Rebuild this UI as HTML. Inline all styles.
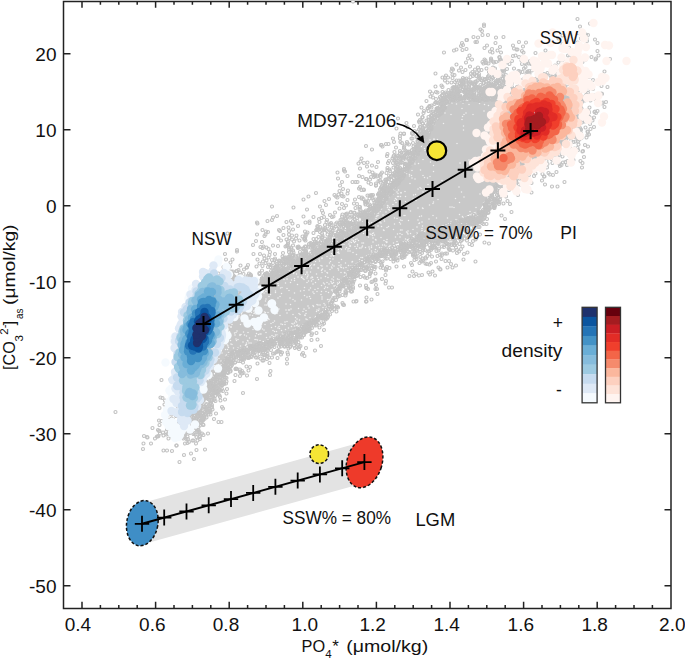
<!DOCTYPE html>
<html><head><meta charset="utf-8"><style>
html,body{margin:0;padding:0;background:#fff;}
svg{display:block;}
text{font-family:"Liberation Sans",sans-serif;fill:#111;}
.tk{font-size:19px;}
.lb{font-size:17.5px;}
.ax{font-size:17px;}
</style></head><body>
<svg width="685" height="659" viewBox="0 0 685 659">
<rect width="685" height="659" fill="#fff"/>
<defs><marker id="g" markerUnits="userSpaceOnUse" markerWidth="8" markerHeight="8" refX="4" refY="4" overflow="visible"><circle cx="4" cy="4" r="3.0" fill="none" stroke="#c3c3c3" stroke-width="2.3"/></marker>
<marker id="b0" markerUnits="userSpaceOnUse" markerWidth="18" markerHeight="18" refX="9" refY="9" overflow="visible"><circle cx="9" cy="9" r="8.4" fill="#f5fafe"/></marker>
<marker id="b1" markerUnits="userSpaceOnUse" markerWidth="18" markerHeight="18" refX="9" refY="9" overflow="visible"><circle cx="9" cy="9" r="8.4" fill="#dee9f6"/></marker>
<marker id="b2" markerUnits="userSpaceOnUse" markerWidth="18" markerHeight="18" refX="9" refY="9" overflow="visible"><circle cx="9" cy="9" r="8.4" fill="#c6dbef"/></marker>
<marker id="b3" markerUnits="userSpaceOnUse" markerWidth="18" markerHeight="18" refX="9" refY="9" overflow="visible"><circle cx="9" cy="9" r="8.4" fill="#9dcae1"/></marker>
<marker id="b4" markerUnits="userSpaceOnUse" markerWidth="18" markerHeight="18" refX="9" refY="9" overflow="visible"><circle cx="9" cy="9" r="8.4" fill="#86bcdc"/></marker>
<marker id="b5" markerUnits="userSpaceOnUse" markerWidth="18" markerHeight="18" refX="9" refY="9" overflow="visible"><circle cx="9" cy="9" r="8.4" fill="#6aaed6"/></marker>
<marker id="b6" markerUnits="userSpaceOnUse" markerWidth="18" markerHeight="18" refX="9" refY="9" overflow="visible"><circle cx="9" cy="9" r="8.4" fill="#4392c6"/></marker>
<marker id="b7" markerUnits="userSpaceOnUse" markerWidth="18" markerHeight="18" refX="9" refY="9" overflow="visible"><circle cx="9" cy="9" r="8.4" fill="#2474b6"/></marker>
<marker id="b8" markerUnits="userSpaceOnUse" markerWidth="18" markerHeight="18" refX="9" refY="9" overflow="visible"><circle cx="9" cy="9" r="8.4" fill="#0b559f"/></marker>
<marker id="b9" markerUnits="userSpaceOnUse" markerWidth="18" markerHeight="18" refX="9" refY="9" overflow="visible"><circle cx="9" cy="9" r="8.4" fill="#1f316d"/></marker>
<marker id="r0" markerUnits="userSpaceOnUse" markerWidth="18" markerHeight="18" refX="9" refY="9" overflow="visible"><circle cx="9" cy="9" r="8.4" fill="#fff4f0"/></marker>
<marker id="r1" markerUnits="userSpaceOnUse" markerWidth="18" markerHeight="18" refX="9" refY="9" overflow="visible"><circle cx="9" cy="9" r="8.4" fill="#fee3d8"/></marker>
<marker id="r2" markerUnits="userSpaceOnUse" markerWidth="18" markerHeight="18" refX="9" refY="9" overflow="visible"><circle cx="9" cy="9" r="8.4" fill="#fdd0bf"/></marker>
<marker id="r3" markerUnits="userSpaceOnUse" markerWidth="18" markerHeight="18" refX="9" refY="9" overflow="visible"><circle cx="9" cy="9" r="8.4" fill="#fbb79d"/></marker>
<marker id="r4" markerUnits="userSpaceOnUse" markerWidth="18" markerHeight="18" refX="9" refY="9" overflow="visible"><circle cx="9" cy="9" r="8.4" fill="#f58a6c"/></marker>
<marker id="r5" markerUnits="userSpaceOnUse" markerWidth="18" markerHeight="18" refX="9" refY="9" overflow="visible"><circle cx="9" cy="9" r="8.4" fill="#f36548"/></marker>
<marker id="r6" markerUnits="userSpaceOnUse" markerWidth="18" markerHeight="18" refX="9" refY="9" overflow="visible"><circle cx="9" cy="9" r="8.4" fill="#f03f2c"/></marker>
<marker id="r7" markerUnits="userSpaceOnUse" markerWidth="18" markerHeight="18" refX="9" refY="9" overflow="visible"><circle cx="9" cy="9" r="8.4" fill="#e22c26"/></marker>
<marker id="r8" markerUnits="userSpaceOnUse" markerWidth="18" markerHeight="18" refX="9" refY="9" overflow="visible"><circle cx="9" cy="9" r="8.4" fill="#cb1e24"/></marker>
<marker id="r9" markerUnits="userSpaceOnUse" markerWidth="18" markerHeight="18" refX="9" refY="9" overflow="visible"><circle cx="9" cy="9" r="8.4" fill="#a51c20"/></marker>
<marker id="r10" markerUnits="userSpaceOnUse" markerWidth="18" markerHeight="18" refX="9" refY="9" overflow="visible"><circle cx="9" cy="9" r="8.4" fill="#67000d"/></marker>
<marker id="w" markerUnits="userSpaceOnUse" markerWidth="4" markerHeight="4" refX="2" refY="2" overflow="visible"><circle cx="2" cy="2" r="1.5" fill="#f2f2f2"/></marker>
</defs>
<path d="M185 365 195 345 215 300 230 292 255 290 275 280 292 270 310 262 326 252 337 245 353 234 370 222 385 200 400 182 410 166 420 150 435 122 450 102 480 100 500 100 520 105 545 110 560 130 545 140 520 155 500 175 480 210 450 223 435 228 420 232 410 238 400 243 385 248 370 255 353 265 337 285 326 308 310 321 292 330 275 337 255 344 230 352 215 372 195 390Z" fill="#c8c8c8"/>
<g transform="scale(0.5)">
<path d="M926 206 904 206 913 208 959 207 938 209 969 209 977 211 1004 211 1005 212 924 217 992 217 1081 219 968 222 1027 221 890 226 932 226 1058 227 902 229 928 229 946 229 1001 229 1067 232 925 233 876 238 924 239 1103 240 1080 246 887 247 1085 248 869 250 927 252 1009 256 927 260 1012 263 1003 267 1060 271 868 278 974 277 868 279 875 279 860 280 872 282 974 285 914 287 1053 288 855 292 856 291 1067 291 892 295 1056 296 849 297 1035 297 862 299 850 301 862 303 994 303 1005 303 1040 304 854 308 976 308 834 312 1013 312 979 316 846 319 938 320 1004 318 1016 320 829 323 861 324 829 325 830 328 837 327 920 326 823 330 867 331 820 333 824 341 841 340 960 341 867 343 813 347 819 349 823 351 846 351 819 352 860 353 990 353 824 356 849 355 855 356 992 358 830 358 884 361 820 367 856 369 840 375 918 374 842 377 797 380 836 378 789 381 794 384 810 383 846 384 863 384 923 384 974 383 802 385 786 388 796 387 802 386 960 388 831 389 827 390 795 393 797 393 801 393 811 393 778 394 928 394 791 397 911 397 793 399 826 398 876 399 773 400 789 401 832 401 773 403 811 403 792 405 867 404 919 405 866 407 967 406 786 409 767 410 775 411 776 412 859 410 775 415 779 415 800 414 836 416 845 416 900 414 904 414 908 415 952 415 799 417 846 417 763 418 777 419 790 418 804 418 756 421 779 420 758 422 760 423 772 424 821 422 940 423 757 426 781 426 756 426 919 429 751 430 754 432 756 431 766 430 808 431 810 431 843 432 866 431 751 432 752 433 839 433 925 433 768 436 895 436 752 437 789 436 794 437 873 436 768 438 836 440 858 438 912 439 743 441 757 442 769 442 801 440 804 441 817 441 760 442 844 444 902 444 743 445 760 445 762 446 799 445 839 446 739 447 789 448 801 448 838 447 734 450 728 454 741 453 746 453 756 452 763 453 777 453 845 452 869 452 730 455 735 455 774 455 834 454 844 457 729 459 740 459 767 460 787 459 801 460 826 459 859 458 727 462 730 461 737 461 768 461 804 460 816 462 844 461 854 461 716 463 716 464 813 464 735 465 815 466 834 466 727 467 740 468 745 467 747 466 800 467 821 467 836 467 708 470 742 469 795 468 804 469 816 468 745 471 749 470 791 474 800 474 707 474 737 474 746 476 762 475 714 478 811 478 711 479 751 479 774 479 693 482 697 481 704 480 707 481 717 481 752 480 768 481 811 482 707 483 711 483 772 483 774 484 794 483 700 484 703 485 709 485 724 486 746 484 773 485 727 486 787 486 684 489 688 489 698 488 715 489 765 490 700 491 753 491 757 490 769 490 780 491 677 494 700 493 701 492 710 493 715 492 724 494 725 492 743 492 772 492 778 493 670 494 674 495 693 495 731 495 738 494 743 495 759 495 770 495 681 496 698 497 713 497 719 496 722 496 739 498 763 496 667 498 677 499 683 499 691 498 696 498 751 499 665 500 696 502 700 502 743 502 677 504 750 504 756 502 671 506 675 505 677 505 706 505 744 506 663 507 678 507 713 509 662 512 665 510 667 511 737 510 644 514 654 513 667 512 733 512 722 515 725 515 638 518 644 517 660 517 728 517 666 518 683 519 719 519 627 522 631 523 639 522 661 523 705 523 678 525 691 526 704 524 659 526 623 528 628 530 629 529 617 532 621 531 642 531 665 530 678 531 682 530 697 531 702 532 707 531 611 533 613 532 617 533 619 533 644 532 654 532 663 534 668 532 610 535 636 536 681 534 683 535 692 535 609 538 623 536 637 536 664 536 676 537 687 536 599 539 605 539 644 539 645 538 660 539 701 540 643 541 650 542 677 540 696 541 614 544 621 544 588 545 605 545 644 545 654 545 655 546 682 545 689 545 690 546 587 547 606 548 614 546 633 548 577 549 593 548 611 549 616 550 566 553 574 552 596 554 615 553 624 554 651 553 603 555 604 554 614 556 622 556 625 555 635 555 642 556 656 555 667 554 558 558 589 557 606 557 675 558 568 559 574 558 608 559 626 559 637 559 664 558 667 560 678 559 685 559 553 562 583 560 589 561 617 562 623 562 662 563 679 563 581 565 614 565 631 565 654 565 667 565 675 566 556 567 571 566 626 568 647 566 649 568 663 566 665 567 537 569 542 568 595 569 658 568 541 571 549 572 557 571 643 571 671 571 538 573 542 573 651 574 668 572 670 572 524 576 564 575 609 575 655 575 561 576 574 577 621 576 636 577 649 577 529 580 533 579 630 579 663 580 515 581 522 580 526 582 578 581 608 581 618 580 665 580 509 582 532 583 551 582 601 582 626 584 634 583 643 583 652 583 666 583 471 585 476 585 481 585 482 585 503 585 510 585 512 586 519 585 520 584 528 586 551 585 589 586 657 585 501 586 503 586 510 587 515 586 517 587 523 586 563 587 628 587 512 589 541 589 642 589 450 591 453 591 465 592 511 590 520 592 609 591 456 594 493 593 538 593 560 593 614 594 619 593 644 594 490 594 507 596 580 596 443 597 460 597 466 598 477 596 481 596 496 596 532 598 556 596 621 597 644 598 466 599 475 599 500 599 586 599 655 599 658 599 506 601 544 600 603 600 455 602 531 602 540 602 590 602 658 603 659 603 431 606 436 604 436 605 478 605 498 605 509 605 546 605 469 607 477 607 494 607 572 608 648 607 468 610 501 608 533 610 537 609 581 609 634 609 636 610 640 610 658 608 427 611 530 610 616 612 626 611 650 610 465 613 499 613 551 612 627 613 452 614 461 615 646 615 651 616 426 617 441 618 453 617 548 618 549 618 597 617 608 618 618 616 441 619 448 618 545 618 558 618 577 620 582 618 634 620 638 618 440 621 443 621 572 620 579 620 612 621 637 621 431 623 433 622 459 624 462 623 465 623 468 623 472 623 507 622 514 623 521 623 529 624 552 623 606 623 633 623 646 622 484 625 503 625 509 626 531 625 536 625 419 627 466 626 483 627 508 627 512 628 554 627 574 626 598 627 612 627 425 628 429 629 435 629 441 630 500 630 550 628 586 629 600 629 610 630 417 632 458 631 461 630 466 631 469 630 478 631 483 630 505 631 560 631 610 631 416 633 426 634 480 634 526 633 631 633 416 635 591 635 620 635 520 637 537 637 594 638 629 637 435 638 455 639 467 640 505 638 532 639 538 639 612 638 614 639 625 639 484 642 504 641 534 641 549 642 591 642 599 640 483 642 492 644 574 643 593 644 429 645 519 645 546 645 570 644 542 647 562 648 584 647 589 646 417 649 429 649 445 648 453 650 464 649 481 649 523 649 530 649 565 649 570 649 586 648 595 650 607 650 430 652 458 652 494 650 521 650 589 652 593 651 600 651 418 654 455 654 551 653 558 653 583 653 595 652 597 653 462 654 462 654 508 654 518 654 521 655 543 655 556 656 591 655 422 658 431 658 525 658 559 657 577 656 416 659 438 658 506 659 571 659 410 662 420 661 436 660 528 660 546 661 563 661 459 663 474 662 487 664 549 663 553 663 431 665 469 666 472 665 496 665 532 665 413 667 414 667 428 667 436 666 459 666 513 667 522 668 565 667 428 669 470 670 480 669 482 669 517 669 520 668 554 670 413 672 420 672 452 672 480 671 489 670 493 672 511 672 544 671 551 670 404 672 427 674 456 673 547 673 552 674 401 674 451 675 499 676 533 675 540 674 548 674 400 677 420 677 433 676 441 676 472 678 545 677 405 679 476 679 510 679 512 679 515 680 538 680 540 678 398 681 416 682 439 682 461 681 473 681 495 681 496 682 520 681 531 681 397 683 486 684 443 686 493 686 524 686 409 688 437 687 498 686 502 686 513 687 393 690 448 690 452 688 462 688 464 689 492 689 493 689 503 689 393 692 430 691 455 690 491 691 456 692 481 692 409 696 440 695 457 695 491 695 493 695 424 697 467 696 476 696 451 699 455 699 473 699 477 698 388 701 431 701 468 701 457 705 394 707 423 707 430 708 444 706 391 709 453 710 388 712 382 713 397 714 410 713 452 712 385 715 383 717 406 717 407 716 420 717 421 718 438 717 450 718 382 719 389 719 398 719 434 719 451 719 386 722 399 720 433 720 442 722 376 723 414 722 429 723 412 725 389 727 397 726 403 726 417 727 373 729 390 729 437 729 390 731 419 732 429 731 379 733 382 732 411 733 433 736 434 735 403 737 410 738 422 737 426 738 434 737 436 737 391 738 377 742 410 742 432 741 388 744 414 743 420 743 432 744 386 746 420 749 422 752 401 754 406 753 415 753 417 753 387 754 388 756 387 756 405 756 417 757 388 758 407 759 414 759 386 762 400 762 394 765 401 765 404 765 395 768 395 769 397 768 399 768 401 769 386 772 396 775" fill="none" stroke="none" marker-start="url(#w)" marker-mid="url(#w)" marker-end="url(#w)"/>
<path d="M1155 38 1180 47 968 49 968 52 1160 53 961 59 964 62 1156 66 965 70 976 70 1172 69 1176 70 1125 71 1133 71 947 74 1007 74 956 75 992 75 1117 77 1162 77 1173 77 933 80 934 80 1190 79 1174 82 954 84 1038 84 924 86 951 84 1052 85 1155 85 1195 86 991 86 1125 88 922 92 926 90 974 91 1026 91 1046 93 969 96 1000 94 1138 95 984 98 1028 97 913 99 933 98 1033 99 1035 99 908 101 925 100 995 101 1091 101 980 103 1044 102 1144 103 1195 102 888 105 985 105 1002 105 1047 105 1071 106 939 111 1031 111 1136 111 1197 111 1026 112 1139 114 1183 114 999 115 999 114 1038 114 1044 115 1171 115 936 117 982 117 1192 117 944 119 969 119 982 119 1000 119 1002 120 1047 119 1122 120 1161 118 1172 119 1191 119 1220 118 971 121 982 121 1024 122 1043 121 1161 121 986 123 992 124 999 122 1060 122 1096 123 1129 123 1138 122 1147 122 1165 124 932 125 965 124 971 125 988 125 1014 125 1050 126 1117 125 967 127 973 126 977 127 1019 128 1044 128 1053 127 1058 127 1062 127 1157 127 913 129 1003 130 1063 128 1087 129 1100 130 1141 128 1005 130 1110 131 1136 131 940 133 1051 134 1107 134 1112 133 922 135 956 135 986 135 1007 135 1107 134 904 137 973 137 983 138 985 137 987 137 990 137 1014 138 1028 137 1048 137 1078 138 1107 138 906 139 950 139 1005 139 1007 140 1138 139 918 141 931 140 958 140 963 140 1007 140 1037 142 1064 141 903 142 978 144 986 142 1008 143 1040 143 1045 144 1055 144 1055 143 1058 142 1116 143 1120 143 1153 143 1160 143 1168 144 1209 143 925 144 945 144 954 145 990 145 1001 145 1057 146 1132 145 1130 145 1137 144 871 147 942 147 949 147 1028 148 1038 147 1053 147 1059 147 1082 147 1088 148 1095 146 1145 147 905 149 949 149 958 148 988 149 995 149 1006 148 1107 148 1115 148 1143 149 892 151 909 150 978 151 990 152 1000 150 1012 150 1093 150 1101 151 1114 151 1168 150 946 152 953 152 958 152 976 153 1004 152 1008 153 1075 153 1090 152 1103 154 1113 154 1122 153 1153 154 1162 153 1165 152 1178 154 885 155 890 155 896 155 905 156 926 156 941 154 957 155 984 155 986 156 996 156 1112 155 1126 154 1142 156 929 158 933 157 959 156 965 157 970 158 975 157 996 156 1000 157 1010 156 1013 158 1048 158 1082 156 1109 158 1141 156 1162 156 937 160 973 158 983 159 1005 158 1010 159 1016 159 1017 160 1023 159 1046 159 1049 160 1051 159 1059 158 1060 160 1071 158 1125 159 1132 159 1145 159 1170 159 890 161 913 161 918 161 922 161 925 160 932 161 955 161 962 160 964 161 969 160 977 161 995 162 996 160 999 161 1002 161 1012 160 1021 161 1029 160 1031 160 1061 162 1074 160 1077 162 1131 160 1138 160 1186 160 910 164 924 164 926 163 940 163 951 163 953 164 992 162 994 163 996 163 1008 163 1010 163 1012 163 1034 163 1036 164 1065 164 1112 163 1129 163 1160 163 1178 164 895 165 903 165 932 165 942 166 946 165 968 166 988 166 1007 166 1015 166 1051 166 1054 165 1058 165 1071 166 1078 164 1087 164 1092 165 1131 165 920 167 924 168 927 167 939 167 945 167 949 168 967 166 977 167 977 167 978 167 982 167 991 167 992 167 992 166 998 166 1000 167 1011 168 1024 167 1049 167 1049 167 1073 166 1086 167 1098 167 1097 167 1102 168 914 169 923 170 923 169 932 168 950 168 948 169 961 170 972 168 980 169 985 169 1044 170 1067 168 1134 169 883 171 922 171 927 171 939 170 949 171 976 171 981 172 1000 172 1004 170 1020 172 1048 171 1049 172 1052 172 1062 171 1079 170 1092 170 1104 171 1119 171 1203 172 871 173 913 173 918 172 938 173 937 174 951 173 953 173 956 174 964 173 976 173 985 172 988 173 988 173 991 174 1002 173 1024 174 1034 174 1038 172 1042 173 1047 172 1048 173 1055 173 1059 174 1075 173 1080 173 1083 174 1149 173 1215 174 885 174 907 174 909 175 926 174 928 174 932 176 948 176 950 174 956 175 970 175 973 176 972 174 978 174 980 176 984 175 983 175 985 175 992 174 1004 176 1009 175 1017 175 1044 174 1050 175 1054 174 1069 176 1077 174 1118 175 1130 174 1153 175 1155 176 905 176 907 177 909 177 913 176 912 177 915 177 917 177 920 177 935 178 950 177 950 177 950 177 951 176 956 177 959 176 960 177 962 176 965 178 972 177 976 176 974 177 979 177 980 177 980 178 982 177 986 177 990 177 997 178 999 177 1002 177 1012 177 1013 177 1014 178 1014 176 1024 178 1030 178 1039 177 1040 176 1042 178 1043 177 1067 178 1066 176 1083 177 1090 178 1118 177 1156 177 1169 177 897 180 913 179 942 179 942 179 945 180 953 179 962 180 961 180 962 179 969 178 971 179 976 179 979 180 990 179 995 179 994 180 996 179 999 179 1004 179 1012 179 1026 178 1037 179 1046 180 1047 179 1063 178 1068 179 1082 180 1099 178 1108 179 1109 179 1119 178 1124 179 1125 180 1126 178 1143 179 1170 179 1176 180 1186 178 920 181 922 182 930 180 932 181 932 180 938 180 943 181 947 180 957 182 958 181 971 182 973 181 978 180 982 180 990 180 997 180 1002 181 1010 182 1012 181 1017 182 1021 182 1024 181 1027 182 1030 180 1030 180 1039 181 1043 180 1056 180 1061 181 1062 181 1070 182 1071 182 1073 181 1081 181 1087 182 1087 180 1090 181 1111 182 1113 181 1118 181 1133 180 1134 182 1157 180 1166 182 1166 180 860 183 903 182 905 184 910 183 914 183 917 184 918 183 928 183 930 183 936 183 940 182 949 184 968 183 975 183 978 182 979 183 980 183 986 183 993 184 994 184 997 183 999 183 1001 184 1012 183 1021 184 1023 183 1027 183 1028 183 1031 182 1034 182 1038 183 1047 182 1051 184 1051 183 1058 182 1061 182 1062 183 1064 183 1079 183 1081 183 1087 183 1102 183 1116 182 1135 184 1145 183 872 184 875 185 885 184 891 185 901 186 903 185 907 186 912 186 913 184 913 186 929 185 931 186 935 185 937 186 942 185 941 185 962 185 966 185 966 186 973 185 983 185 992 185 990 185 998 184 998 186 1006 185 1007 184 1007 184 1014 184 1017 186 1023 185 1029 185 1030 184 1036 186 1044 186 1047 185 1073 184 1098 184 1110 185 1117 184 1120 185 1122 185 1147 185 864 187 888 187 893 188 898 188 914 187 916 187 934 186 948 186 961 186 964 187 964 188 970 187 975 187 977 186 984 187 992 186 995 187 997 188 1004 187 1008 187 1014 188 1025 187 1027 188 1032 187 1036 188 1040 187 1043 188 1045 186 1053 187 1060 187 1061 186 1064 188 1066 188 1077 188 1082 188 1088 187 1090 188 1099 188 1176 186 1203 187 885 190 901 189 900 190 903 189 904 190 908 189 915 189 943 188 948 189 949 189 958 189 962 189 972 189 972 190 976 190 982 189 986 189 991 189 991 189 994 189 1002 189 1005 189 1008 188 1023 188 1035 190 1036 190 1041 190 1042 189 1045 189 1095 189 1094 189 1105 189 1128 188 1129 190 1140 189 1155 189 1173 189 1204 188 884 191 894 190 902 191 909 192 910 191 913 192 920 191 932 191 933 191 936 192 938 192 941 192 945 191 945 191 949 192 958 191 963 191 970 191 970 191 975 192 978 191 976 190 988 191 998 192 998 191 1001 192 1001 191 1006 190 1012 191 1013 190 1014 192 1017 191 1031 192 1044 191 1047 191 1046 192 1055 192 1056 191 1060 191 1077 192 1082 191 1083 192 1095 192 1097 191 1096 192 1100 192 1110 190 1117 192 1118 190 1136 190 1160 190 1175 191 1186 190 861 193 894 193 897 192 908 193 910 193 916 193 921 193 929 193 930 193 931 193 940 193 957 192 963 193 968 193 972 193 984 193 987 193 995 194 996 192 1002 193 1005 193 1011 192 1023 193 1024 193 1031 193 1037 193 1057 193 1060 193 1058 192 1066 193 1070 192 1072 192 1075 192 1085 193 1089 193 1101 193 1106 193 1130 193 1139 193 1156 194 1171 192 866 195 880 194 888 195 889 195 891 195 892 195 901 195 901 195 904 195 905 194 908 194 909 195 911 196 913 194 919 195 921 195 920 194 929 195 935 195 943 195 949 196 953 195 955 195 963 194 968 194 975 196 986 195 990 196 989 195 990 194 992 195 996 194 998 195 998 195 1002 194 1003 195 1006 195 1014 194 1017 195 1019 196 1021 195 1023 196 1025 195 1027 196 1039 195 1039 194 1057 195 1059 196 1072 196 1080 196 1081 194 1084 194 1087 195 1094 194 1105 196 1107 195 1109 194 1110 196 1122 195 1124 195 1130 195 1133 195 1136 196 1136 196 1142 195 1152 195 1160 195 1169 195 1176 195 872 198 881 197 890 197 900 196 918 197 919 197 921 197 927 197 928 197 933 197 938 197 941 198 947 198 946 197 948 196 950 198 962 198 965 197 965 196 968 196 967 198 976 197 981 198 987 198 1002 196 1007 197 1007 196 1020 197 1032 197 1034 197 1043 197 1043 197 1042 197 1045 198 1063 196 1067 197 1067 198 1072 196 1080 198 1084 197 1085 196 1098 197 1110 198 1118 197 1118 197 1128 197 1131 198 1132 196 1134 196 1139 196 1164 198 886 199 887 200 904 200 906 200 905 198 907 200 906 200 908 198 911 200 913 198 916 200 919 199 920 199 946 198 946 198 953 199 953 199 970 200 972 199 973 199 975 199 975 199 975 198 977 199 984 199 986 199 989 199 1003 200 1003 199 1006 199 1007 199 1010 199 1010 199 1011 200 1011 200 1023 199 1024 199 1025 199 1029 199 1033 200 1037 199 1039 199 1041 198 1046 198 1047 199 1048 200 1068 199 1071 199 1072 198 1082 198 1092 198 1098 200 1105 198 1127 199 1130 198 1135 198 1143 199 1162 200 1164 198 1189 198 886 201 886 202 884 200 895 202 905 201 927 201 941 200 949 200 955 200 959 201 959 202 1008 200 1019 201 1019 201 1021 201 1024 201 1027 201 1028 200 1033 201 1036 201 1040 201 1038 201 1041 200 1046 202 1045 202 1049 200 1082 201 1084 202 1087 201 1093 201 1104 201 1110 201 1110 201 1118 201 1122 200 1135 202 1137 201 1141 202 1144 201 1147 200 1170 201 1181 201 853 202 881 203 888 202 892 202 894 203 893 203 893 203 927 202 1012 203 1016 203 1020 202 1022 202 1021 203 1024 204 1027 202 1037 203 1040 203 1042 204 1055 203 1058 204 1064 202 1070 204 1078 203 1077 202 1083 203 1083 202 1093 203 1095 202 1096 203 1117 203 1117 203 1118 204 1129 204 1137 204 1141 203 1164 204 871 205 873 205 879 204 884 204 889 205 894 206 897 204 898 204 1022 205 1028 206 1033 204 1036 204 1041 204 1045 205 1059 205 1066 205 1071 205 1073 205 1075 205 1076 205 1080 205 1089 204 1089 205 1090 206 1106 204 1116 206 1125 206 1136 205 1144 206 1154 205 1155 206 1206 205 1212 204 869 208 876 206 882 208 883 207 890 206 1039 207 1046 208 1055 207 1075 207 1076 207 1082 207 1083 208 1082 208 1087 208 1089 206 1091 208 1101 207 1102 206 1110 208 1121 207 1133 207 1138 208 1140 206 1146 208 1205 207 886 209 1037 210 1037 210 1050 210 1069 208 1073 208 1078 210 1078 208 1081 210 1098 210 1118 209 1129 209 1140 209 1150 209 863 211 888 211 888 210 1044 211 1046 211 1055 212 1058 211 1067 211 1070 211 1071 211 1079 211 1082 211 1087 211 1099 211 1099 211 1098 211 1098 210 1100 211 1103 211 1103 211 1121 212 1142 212 1149 211 859 212 859 213 880 213 885 213 886 214 887 214 890 214 1054 212 1070 212 1072 214 1077 212 1080 213 1080 214 1095 213 1099 214 1103 213 1131 213 1135 213 1150 212 1152 213 1154 212 1209 214 843 215 856 216 859 214 863 215 876 216 882 216 884 215 886 215 888 216 889 214 1076 214 1079 215 1082 215 1090 215 1092 216 1092 215 1104 215 1110 215 1114 215 1128 216 1132 215 1136 215 1140 216 1151 215 1154 215 1161 214 1161 216 1179 215 855 217 873 217 874 217 875 217 882 218 885 216 888 217 886 218 890 216 1075 216 1083 217 1103 217 1108 218 1116 218 1117 216 1136 217 1136 216 1144 216 1146 217 1147 218 1163 217 1086 220 1092 219 1094 218 1098 218 1100 219 1116 218 1119 218 1123 218 1140 218 1146 219 1147 220 1151 219 857 222 873 221 877 220 876 221 879 221 878 221 881 221 882 222 884 220 886 221 886 220 1095 222 1095 222 1104 220 1103 222 1104 220 1116 222 1116 220 1117 221 1121 220 1131 221 1147 222 1149 220 1150 221 1155 221 1175 221 1195 222 848 222 863 224 866 223 871 223 876 222 878 222 878 224 1107 223 1107 222 1111 224 1112 223 1113 223 1123 223 1124 222 1140 224 1144 224 1149 223 1152 223 1158 223 1177 222 1189 224 1190 223 847 226 871 224 883 225 1102 225 1101 225 1105 225 1115 225 1121 226 1125 226 1124 225 1128 225 1128 226 1129 225 1140 224 1154 225 1178 225 876 227 880 227 880 228 883 227 1104 228 1107 226 1111 227 1112 227 1115 227 1118 226 1125 227 1135 227 1139 227 1142 227 1149 228 1152 227 1157 227 1159 228 1192 226 836 229 867 228 1099 228 1098 229 1101 229 1103 229 1104 229 1107 228 1108 230 1114 229 1115 230 1121 230 1121 228 1130 228 1135 228 1138 228 1174 230 864 232 862 231 864 231 868 231 871 231 875 231 877 231 878 230 1112 232 1115 231 1133 231 1153 230 1154 232 1176 231 845 234 874 233 1100 234 1105 233 1113 233 1123 234 1125 234 1128 232 1136 232 1143 233 1150 233 1152 234 1154 234 1157 234 1157 234 1163 232 1175 232 1178 233 845 235 857 234 870 235 869 235 1103 235 1110 235 1115 235 1118 235 1121 235 1141 234 1142 235 1143 236 1146 234 1151 235 1161 234 1163 235 1172 235 1170 235 1188 235 796 237 864 236 866 238 870 236 875 237 1116 237 1123 236 1123 238 1132 236 1130 237 1134 237 1134 237 1166 236 1172 236 1183 237 857 239 863 239 1109 239 1111 238 1113 238 1116 239 1115 239 1117 239 1120 239 1130 238 1135 238 840 240 843 242 853 241 857 241 862 241 1114 241 1115 242 1117 241 1117 242 1120 241 1121 242 1121 242 1120 242 1124 240 1142 241 1143 241 1155 241 1185 241 838 243 863 244 864 244 868 242 867 243 1113 243 1115 244 1125 243 1126 243 1130 243 1137 243 1145 242 1159 242 1161 244 1170 243 813 246 839 245 1111 246 1120 245 1124 244 1136 244 1137 245 1142 245 1149 244 1153 246 1152 246 1154 244 1157 245 1160 245 1164 245 845 247 846 247 858 246 857 248 860 248 861 247 866 247 1123 247 1123 247 1125 247 1127 248 1130 247 1131 248 1132 247 1141 248 1151 247 1155 248 1180 248 855 250 860 248 866 249 1119 250 1122 249 1126 250 1127 249 1135 248 1139 248 1143 250 828 252 857 252 862 252 1119 250 1125 251 1125 250 1135 250 1136 250 1144 250 1146 251 1152 251 1152 252 1154 252 840 254 841 254 849 252 859 252 858 253 1123 253 1122 254 1126 253 1126 254 1126 252 1139 253 1145 252 1188 254 815 254 845 255 847 256 862 256 1121 255 1124 255 1134 254 1138 256 1137 254 1137 255 1138 255 1148 255 1151 256 1155 255 1171 255 793 257 861 257 863 257 1124 257 1126 258 1143 257 1146 257 1160 256 1181 258 838 259 852 258 857 259 860 258 862 259 1122 258 1126 259 1135 259 1143 260 1143 259 1144 259 1144 259 1158 258 1159 259 1162 259 829 262 842 262 841 261 856 261 857 260 1125 262 1126 261 1129 260 1136 261 1138 261 1140 261 1141 261 1145 261 1161 262 835 263 846 263 846 263 848 264 1119 263 1128 262 1143 263 1175 263 824 266 848 266 854 265 1120 266 1122 266 1127 266 1136 265 1155 265 1176 264 801 267 808 267 824 267 826 268 838 267 845 267 850 266 851 267 858 266 1118 267 1120 268 1127 268 1133 266 1156 267 1162 267 808 268 836 270 841 270 842 269 849 270 848 269 851 270 857 270 1115 269 1128 270 1128 268 1140 268 1141 268 1143 268 1149 268 1161 269 1175 270 1178 269 800 272 844 272 849 270 852 271 1112 272 1116 270 1118 270 1130 272 1154 271 833 273 844 273 854 273 853 274 1117 274 1121 273 1122 272 1123 274 1134 273 1146 272 1148 273 1149 274 1154 273 834 275 838 276 1101 275 1102 275 1102 275 1108 275 1108 275 1113 276 1116 275 1119 275 1119 276 1124 274 1132 275 1139 275 1163 276 1173 275 786 277 800 277 823 277 825 277 836 278 838 277 839 278 839 278 843 276 852 276 1103 277 1103 277 1102 277 1105 276 1110 276 1120 277 1155 276 847 280 849 279 1099 278 1099 279 1100 279 1110 278 1109 279 1116 278 1125 278 1126 280 1127 280 1159 279 839 281 842 280 1093 281 1095 282 1123 280 1128 282 1132 280 788 284 814 284 836 282 835 282 844 282 849 284 1093 283 1099 282 1101 284 1103 283 1102 284 1110 282 1116 283 1128 284 1142 282 1151 283 1156 283 801 284 826 286 846 286 847 285 1088 286 1115 286 1118 285 1119 284 1125 286 1147 284 772 288 804 286 815 287 835 287 839 288 839 287 842 287 844 287 848 288 1083 288 1083 287 1084 288 1085 287 1090 287 1091 286 1108 286 1126 287 1134 288 762 290 763 290 777 288 818 289 833 289 836 290 838 290 1082 289 1081 289 1087 289 1089 290 1092 289 1118 290 1118 290 1122 289 1134 289 1157 289 809 291 835 291 839 290 1093 292 1105 292 1170 290 732 292 765 293 827 293 836 292 836 293 1072 293 1078 293 1081 293 1081 293 1084 294 1083 292 1083 294 1092 292 1109 292 1111 292 1114 293 1118 293 1176 293 792 295 808 294 832 295 831 295 834 295 837 296 1071 295 1073 295 1072 295 1073 294 1081 295 1081 295 1086 296 1095 295 1098 294 1101 295 1103 295 1112 295 1119 294 1140 294 808 297 827 298 836 296 836 296 838 297 840 297 1066 297 1074 297 1075 297 1076 297 1080 297 1082 298 1090 298 1100 297 1120 296 1149 297 1155 296 744 299 829 298 833 299 841 300 1062 300 1066 300 1077 299 1079 300 1080 299 1079 298 1082 299 1086 299 1093 299 1100 298 1115 298 1136 298 800 302 811 301 824 300 834 302 838 300 1061 300 1060 302 1072 300 1071 301 1072 301 1078 300 1080 301 1082 301 1083 301 1088 302 1091 300 1118 302 1137 300 1156 300 813 303 818 303 818 304 831 303 833 303 836 302 1058 304 1058 302 1060 303 1065 302 1072 304 1079 302 1079 303 1081 304 1086 304 1122 303 1165 303 1166 302 789 304 803 305 815 305 817 306 825 306 827 305 827 304 829 305 833 306 836 304 1059 305 1064 304 1069 304 1069 306 1073 305 1079 305 1138 305 800 307 808 306 812 308 815 307 826 306 828 307 835 306 1050 306 1050 307 1058 307 1065 307 1068 306 1071 306 1084 307 1101 307 775 308 823 308 828 309 828 308 836 309 836 308 1048 309 1058 308 1062 310 1063 309 1062 309 1071 309 1071 308 1089 309 774 312 788 311 793 311 796 312 809 311 821 311 820 311 830 311 1055 310 1060 312 1058 311 1070 310 1074 312 1080 311 1086 311 1087 312 1103 311 1109 311 1118 310 1139 311 787 313 800 313 804 313 808 313 812 314 826 313 831 312 1045 313 1115 313 1125 313 1168 314 808 315 824 315 831 316 1039 316 1045 316 1050 316 1057 315 1058 315 1069 316 723 317 785 317 792 318 799 317 806 317 812 317 817 318 821 317 823 317 1040 316 1041 317 1044 317 1045 318 1048 316 1054 317 1052 316 1057 316 1063 317 1073 317 1080 316 1088 316 1103 318 789 320 801 319 824 319 824 319 826 318 1039 319 1043 319 1069 318 1071 318 1073 318 1076 319 1078 319 1082 320 789 320 793 321 806 320 820 320 1038 321 1037 320 1037 321 1041 320 1062 320 1071 322 1080 321 1093 322 1135 322 1147 320 721 323 778 322 801 324 819 323 820 322 826 323 825 323 1043 322 1046 323 1054 323 1063 324 1110 324 1112 324 1161 322 728 326 735 325 756 324 776 326 791 325 793 326 794 325 803 325 823 324 1033 324 1038 325 1039 325 1045 325 1052 324 1058 324 1069 326 1072 325 1105 326 1116 325 1126 325 1131 324 1165 326 717 327 786 326 800 327 809 328 812 327 820 327 822 327 1030 326 1032 328 1032 327 1034 326 1050 328 1078 326 1095 328 1119 328 796 329 810 328 812 329 819 329 1026 329 1030 329 1036 330 1042 329 1045 328 1048 329 1057 329 1123 330 744 331 816 331 819 332 1031 332 1042 331 1049 330 1120 332 1134 330 734 333 753 334 791 332 794 333 814 333 819 333 1022 333 1020 333 1041 333 1049 332 1057 332 1073 334 775 336 787 335 795 334 800 336 810 334 816 336 817 335 1027 334 1026 335 1029 336 1028 335 1030 334 1033 335 1034 335 1036 335 1040 334 1042 335 1046 335 1057 336 1064 335 1088 336 1094 335 1164 335 688 338 720 337 801 337 809 338 809 338 813 337 1022 338 1022 338 1027 337 1033 336 1034 337 1038 336 1060 338 1070 338 1074 337 779 339 792 340 796 338 798 339 799 340 807 339 811 339 814 339 1015 338 1016 340 1016 340 1017 339 1021 338 1020 339 1031 340 1036 339 1039 338 688 341 775 340 795 342 1013 340 1015 340 1017 340 1027 340 1030 342 1031 341 690 343 739 343 780 342 793 343 793 342 801 343 814 342 1034 343 675 345 745 345 764 345 773 346 790 345 797 345 798 345 803 345 805 345 809 346 1009 345 1011 346 1013 344 1016 345 1019 344 1027 345 1029 346 1028 345 1031 344 1037 344 1037 345 1058 344 1113 344 786 347 799 347 799 348 1008 347 1012 346 1012 348 1012 347 1044 347 1071 347 1085 348 1097 346 747 350 750 349 762 348 786 348 788 350 797 350 804 349 804 348 806 348 806 350 1012 348 1017 349 1031 349 1058 350 1100 349 1106 350 750 352 755 351 760 351 778 351 790 350 792 351 808 350 807 352 1004 350 1011 351 1015 350 1022 351 1027 351 1032 350 1034 352 1037 351 1068 352 695 352 718 352 754 353 761 354 781 354 782 352 792 354 800 352 807 353 1001 353 1004 354 1007 353 1010 353 1019 354 1022 353 1024 352 1038 352 1043 353 1088 353 1089 353 725 354 742 354 748 354 794 355 799 355 1006 355 1015 355 1050 356 676 357 732 358 733 358 788 357 794 357 800 356 803 357 805 357 1007 357 1039 357 740 359 771 359 775 358 778 358 783 360 796 360 798 360 798 358 799 359 800 360 1004 359 1057 358 760 361 773 360 789 361 794 360 792 362 797 361 801 360 999 362 999 362 1002 362 1002 361 1018 360 1016 361 1032 361 1045 362 1084 361 684 364 705 364 715 364 757 362 768 363 793 363 798 363 798 363 1002 362 1009 364 1032 363 711 364 737 365 761 365 771 365 777 364 787 365 790 364 796 365 995 366 995 365 999 365 1011 365 1013 365 1017 365 1018 364 1033 365 1063 366 1129 364 752 367 769 367 771 367 787 367 788 368 791 366 794 368 794 367 797 367 998 368 998 368 998 367 1002 366 1004 367 1008 366 1011 368 1022 367 1023 367 1028 367 1046 367 742 368 780 370 783 369 784 369 785 369 785 370 789 368 791 369 793 369 792 368 993 368 996 370 997 368 999 369 1038 369 1090 369 680 371 752 371 752 371 771 371 781 371 786 371 787 370 788 371 790 371 792 371 1000 372 1005 371 1007 372 1022 371 1043 370 764 372 764 373 771 373 771 373 784 373 991 372 991 373 995 373 998 372 1016 372 1014 373 1021 373 1104 373 1115 373 720 374 762 375 768 374 772 375 775 375 784 374 786 375 790 375 989 376 1007 375 718 377 763 378 775 378 780 377 780 376 782 377 989 376 990 377 991 377 1004 377 1033 377 686 378 723 380 727 379 760 379 765 379 769 380 772 380 774 380 779 379 782 379 987 379 988 380 991 379 1003 379 679 382 696 381 728 380 763 381 767 382 770 380 771 382 775 382 778 382 778 382 782 381 781 381 984 380 989 382 995 381 1000 382 999 382 1002 380 1012 380 1018 380 772 383 776 384 780 382 786 383 989 384 999 384 1007 383 632 386 769 386 769 386 769 385 783 386 784 385 996 385 1001 386 1063 385 683 387 695 387 758 386 759 387 765 387 766 387 773 386 780 388 781 388 982 386 984 386 677 389 746 390 756 389 758 388 758 389 767 389 984 389 984 390 994 390 999 389 669 390 684 392 735 391 739 391 743 390 742 391 764 392 766 390 766 391 768 391 773 391 778 391 980 391 997 390 1036 390 617 393 672 393 687 393 744 392 761 392 762 394 763 393 765 392 764 392 772 394 770 394 773 393 772 393 980 392 983 392 985 393 1001 393 1012 393 675 395 718 394 724 395 758 395 762 396 981 396 984 394 997 396 658 398 723 397 739 397 745 396 757 397 759 397 761 397 773 396 773 398 772 396 989 398 990 398 607 399 695 400 710 399 727 398 751 399 757 400 771 400 975 399 978 400 982 399 990 399 994 398 1000 399 747 400 754 401 758 402 766 401 766 401 974 402 988 400 992 400 649 402 730 403 732 403 733 404 736 402 762 404 768 403 974 402 976 403 985 403 995 402 999 404 1015 402 674 406 731 404 753 406 758 404 974 405 977 405 988 405 997 405 684 408 708 407 714 408 731 407 749 406 764 407 766 406 971 408 986 408 990 407 988 408 1007 407 1020 408 731 409 736 410 739 409 750 409 753 408 764 409 970 410 969 409 969 410 972 408 972 409 979 409 998 408 652 410 692 411 745 411 754 411 757 412 757 410 756 412 760 411 762 411 971 411 972 411 977 410 990 412 544 413 640 413 719 414 720 414 740 413 749 413 754 414 755 413 759 412 762 413 761 413 761 413 760 413 975 414 983 413 989 412 587 415 688 416 741 415 747 415 750 416 759 415 971 415 971 414 974 416 979 416 982 415 988 415 988 415 989 416 679 417 711 416 740 418 745 416 747 418 752 417 752 416 754 416 977 417 979 418 614 419 719 418 739 418 749 419 751 419 752 419 752 420 755 420 756 419 966 420 969 418 975 420 975 418 644 421 721 420 732 421 737 420 738 420 742 422 745 422 748 422 750 422 753 420 756 421 754 422 971 420 975 420 975 421 726 424 730 424 734 424 747 423 752 423 967 423 976 424 670 425 701 425 702 424 709 425 719 426 957 424 958 425 961 424 963 426 966 425 966 426 969 425 970 424 970 425 977 425 1023 424 646 426 692 428 694 427 708 426 722 426 726 426 736 427 744 427 955 426 959 427 959 426 964 427 972 427 971 426 976 426 685 429 713 429 716 429 724 429 728 429 734 429 736 430 739 430 744 429 744 428 744 430 748 428 748 428 966 429 969 428 660 430 693 430 719 431 721 430 732 430 731 431 730 432 740 430 748 431 947 430 948 430 963 430 966 431 967 431 970 431 970 431 1003 431 554 432 607 433 627 434 667 433 684 433 696 433 704 433 718 433 722 432 725 433 726 433 726 434 728 432 743 433 744 433 942 433 952 434 546 435 643 436 648 434 664 434 700 435 708 434 714 436 725 436 728 435 729 436 732 435 731 435 739 436 932 435 937 436 937 436 939 436 941 436 943 436 947 435 951 434 958 434 960 436 961 434 969 436 690 436 691 437 726 438 739 436 741 437 743 437 932 438 934 438 936 436 942 437 940 436 944 437 948 436 955 437 957 436 961 437 963 437 974 438 638 438 654 440 681 440 683 439 692 438 709 438 731 440 733 439 733 438 742 439 921 440 924 440 927 439 930 439 932 439 935 439 938 439 937 439 940 438 943 440 945 438 952 440 956 439 954 439 966 438 966 439 1010 438 535 442 544 440 693 441 715 442 740 441 918 442 921 441 922 442 935 441 936 440 941 440 950 442 952 441 957 442 958 441 960 440 573 444 582 442 619 443 688 442 690 444 706 442 725 444 725 442 726 443 731 442 921 443 927 442 931 443 935 443 935 442 942 442 951 443 961 443 961 443 514 445 611 445 639 444 653 444 674 445 678 446 685 445 687 445 692 444 695 445 698 445 701 446 712 445 722 446 730 444 907 445 909 444 911 446 912 444 916 446 929 445 928 444 932 446 941 445 941 444 952 445 956 446 955 445 958 444 515 447 585 447 619 446 662 446 684 448 707 447 709 447 719 447 728 447 733 448 907 447 909 447 933 446 939 446 944 448 949 447 949 448 950 447 951 448 964 446 967 448 973 448 650 450 659 449 660 448 671 448 680 449 680 449 685 449 692 450 696 448 695 450 696 448 700 449 701 450 701 448 706 449 717 449 718 449 720 449 723 449 725 448 728 449 902 448 905 450 909 450 917 449 928 449 940 449 948 449 952 450 596 452 635 452 663 450 687 452 687 452 693 451 693 450 708 451 710 451 731 451 892 450 900 451 904 452 903 452 918 451 920 450 923 452 926 452 937 452 947 452 640 454 655 453 671 453 678 454 696 452 696 452 714 453 717 454 718 453 725 454 894 453 899 452 901 452 900 453 902 453 914 452 921 454 926 452 929 453 957 454 577 455 635 454 687 454 691 456 696 454 719 454 890 454 893 455 897 454 897 456 905 456 908 455 908 455 911 455 914 455 917 454 920 455 920 454 923 456 959 454 567 456 637 456 646 457 650 457 664 456 668 456 679 457 697 458 708 456 709 457 712 457 714 457 719 457 877 456 883 458 886 458 888 457 889 457 894 456 895 457 895 457 905 458 904 456 911 456 923 458 924 458 929 457 929 458 933 458 949 457 586 459 633 460 636 460 644 460 697 460 702 458 711 459 711 458 711 460 873 459 878 459 879 459 882 459 881 459 885 459 889 458 891 459 894 459 896 459 895 459 906 460 909 459 910 458 915 459 915 460 918 459 928 459 525 460 558 460 560 462 633 460 648 460 652 460 661 460 665 462 682 462 685 461 695 462 700 460 702 461 703 461 709 461 857 461 864 462 867 462 868 461 869 462 872 461 875 461 877 461 880 461 886 460 890 462 896 460 901 461 900 461 902 462 904 460 907 461 908 461 912 461 912 461 945 461 532 463 536 464 578 462 610 463 654 462 662 464 677 462 677 462 685 463 684 464 698 464 702 463 711 463 855 464 856 463 859 463 863 463 876 463 876 463 879 462 879 463 885 463 887 464 891 464 890 462 912 463 914 462 923 462 932 463 934 462 615 465 627 466 640 464 670 465 677 464 686 466 688 466 695 464 704 464 705 466 855 465 856 465 859 465 862 466 865 466 869 465 877 466 878 465 884 464 890 466 899 466 900 464 903 465 905 465 907 465 909 465 910 466 921 464 922 465 933 464 934 465 943 464 455 467 613 468 644 467 662 467 681 466 683 467 689 467 705 468 842 468 842 467 840 467 845 467 846 466 857 466 861 468 860 467 863 467 864 467 863 467 872 467 877 467 885 466 890 468 892 468 893 466 897 466 904 467 906 467 908 468 914 466 922 467 937 468 939 467 514 469 531 469 567 470 578 469 611 470 655 469 691 470 703 469 840 468 841 470 843 468 845 470 846 470 848 468 849 470 857 468 865 469 869 469 879 468 885 469 885 469 885 470 891 469 897 469 905 469 908 469 916 469 939 470 960 469 584 471 593 471 645 471 661 471 668 471 671 470 672 471 674 471 675 472 677 472 683 470 686 472 694 470 692 471 698 472 697 471 833 471 837 471 844 471 844 470 856 471 878 471 884 472 885 471 901 471 902 471 907 471 919 471 918 471 921 471 942 471 529 472 605 473 611 473 637 474 659 474 661 474 676 473 679 474 685 474 697 474 698 474 700 474 835 473 838 473 839 473 841 473 842 474 852 472 855 472 855 474 871 474 883 474 883 474 896 474 907 473 918 473 924 472 926 472 933 472 939 473 557 476 644 475 645 474 683 475 833 474 837 476 848 476 852 474 853 474 858 474 858 476 864 476 863 476 869 476 870 475 871 476 887 476 887 476 890 475 889 476 890 474 899 475 914 475 918 476 924 475 579 476 592 477 609 478 610 477 609 476 627 478 633 478 644 476 650 477 659 476 674 477 675 477 679 477 680 478 680 478 688 478 689 476 694 478 823 477 824 477 832 478 838 477 849 477 868 477 875 476 882 477 884 478 908 477 919 477 924 476 929 477 935 476 952 477 573 479 584 479 609 479 656 479 660 479 679 480 680 479 680 478 684 479 684 478 824 479 833 480 839 480 842 479 842 479 858 479 859 479 877 479 878 480 878 480 880 478 891 478 900 479 907 478 924 480 951 479 512 482 562 481 599 481 611 481 653 481 655 481 661 481 669 480 681 481 687 481 687 482 821 481 821 481 829 482 830 480 838 481 843 482 844 481 845 481 850 481 852 482 855 482 860 480 862 482 863 480 869 481 878 482 880 481 886 481 891 481 891 480 891 480 922 482 934 481 576 483 588 483 642 482 654 483 654 482 660 484 671 484 674 483 675 483 812 484 827 483 838 482 844 483 851 483 853 484 872 482 874 483 876 483 885 483 887 482 910 482 910 482 946 482 524 484 630 484 643 484 648 484 651 485 651 485 680 485 681 485 844 486 850 485 851 485 853 484 865 486 875 485 877 486 909 484 908 486 913 486 969 485 576 487 621 486 623 487 631 488 631 486 634 486 637 487 637 487 652 488 658 487 663 487 669 488 671 486 802 486 808 487 813 487 826 487 825 486 824 486 832 487 844 488 865 488 870 487 870 487 892 486 895 487 904 487 919 488 978 487 506 490 575 490 618 488 624 490 627 488 657 489 668 488 674 488 676 489 802 488 803 489 804 489 805 489 807 489 813 490 817 488 818 489 830 490 830 489 836 490 847 490 848 490 852 489 869 488 877 488 889 490 893 488 897 489 898 489 903 490 910 490 939 488 546 491 573 492 575 492 586 491 646 491 650 491 648 490 654 490 657 491 659 491 661 492 660 491 661 491 666 491 667 491 673 492 804 491 807 491 810 490 817 492 829 491 835 491 840 491 843 490 845 490 845 491 847 492 847 490 859 490 908 490 944 490 527 493 556 492 571 493 595 494 597 493 610 493 612 493 617 493 625 493 624 492 627 493 639 494 642 493 644 493 652 493 651 494 660 492 666 493 665 494 788 492 796 494 802 493 803 493 807 494 811 492 818 493 819 492 822 493 822 493 821 493 829 492 836 492 838 492 848 493 865 493 884 493 925 493 521 494 525 496 533 495 578 495 582 495 596 495 598 495 616 495 622 495 630 495 636 495 646 494 653 496 657 495 665 496 665 496 666 494 785 496 784 495 795 495 812 495 812 496 810 494 815 494 822 494 830 495 841 494 861 495 863 495 868 495 868 495 870 494 871 495 888 494 912 495 596 496 605 497 607 497 628 496 641 498 644 498 646 496 656 497 659 497 658 498 662 497 774 497 780 498 790 497 800 496 803 498 809 497 813 497 814 497 825 496 827 497 847 497 863 496 864 497 878 497 897 496 922 498 537 498 578 499 583 499 607 498 625 500 633 499 638 500 640 499 638 499 645 499 648 499 647 499 652 498 652 498 654 500 658 498 769 499 771 498 796 499 796 499 813 499 829 499 832 500 840 498 846 500 862 500 898 498 899 499 900 500 914 500 474 500 586 501 612 502 611 502 628 501 631 501 644 501 646 500 654 501 656 501 764 500 768 500 768 501 774 501 779 502 787 501 799 501 800 500 801 501 800 500 805 501 805 501 807 501 807 502 809 501 834 501 850 500 877 501 906 501 474 503 540 504 578 504 609 502 625 503 632 503 635 504 638 502 638 504 643 502 649 503 651 503 652 503 650 502 653 502 760 503 760 504 771 502 771 504 773 502 773 502 776 502 777 502 780 503 790 504 801 504 807 502 808 504 816 503 824 504 830 503 841 504 855 503 858 502 873 502 918 503 566 506 583 505 587 505 600 504 612 504 628 505 635 504 636 506 636 504 642 504 645 504 649 505 650 505 651 505 759 505 761 504 765 505 776 504 785 504 787 504 792 505 792 504 807 506 809 505 819 504 844 506 914 506 935 505 606 508 612 506 613 507 621 506 632 507 634 506 637 507 637 507 638 508 646 506 756 508 761 507 771 506 772 507 773 507 784 508 793 507 813 508 827 506 831 508 835 507 859 508 884 507 891 507 894 507 928 508 450 508 507 508 520 508 550 508 586 510 601 509 604 509 607 510 606 509 610 509 617 510 624 509 635 508 635 509 636 508 644 510 747 509 747 509 753 510 752 509 760 510 763 509 763 509 766 508 776 508 784 510 785 510 792 508 791 510 804 509 810 510 826 508 880 510 528 511 539 510 580 511 585 511 585 511 585 511 590 511 597 511 610 512 612 511 628 510 637 510 639 511 753 512 754 512 763 512 763 512 765 512 769 511 783 512 783 511 783 510 808 512 826 511 830 511 855 512 875 512 884 510 565 513 577 514 579 513 581 513 592 513 607 514 607 512 614 513 619 512 738 513 746 512 747 514 749 513 752 514 751 513 757 513 759 512 771 513 786 513 804 512 809 514 864 513 537 515 568 516 570 515 572 515 584 515 597 515 611 516 620 514 621 516 623 514 623 514 626 515 627 514 633 514 633 515 737 516 739 514 745 515 745 515 753 516 755 516 754 516 799 515 803 514 829 514 833 514 841 514 851 515 437 517 529 517 550 517 575 518 583 516 601 517 603 518 605 517 606 516 612 516 616 517 616 518 617 517 621 517 621 518 625 517 627 518 626 516 628 518 735 517 735 516 735 518 749 517 771 517 774 517 781 518 788 518 805 516 845 517 852 517 452 519 465 519 515 519 544 520 549 520 565 519 570 519 577 519 584 520 592 519 597 518 599 519 605 520 616 519 617 520 618 519 623 519 627 519 730 519 731 518 734 520 736 518 757 518 790 519 792 518 833 518 883 518 927 519 533 521 558 521 559 522 565 522 576 520 575 520 579 520 588 521 594 522 596 520 598 521 608 520 610 521 613 521 620 520 745 522 744 520 758 522 795 521 829 520 842 522 846 521 891 522 898 522 526 523 554 523 562 523 568 524 574 523 573 524 573 524 575 522 576 524 579 522 586 522 589 523 593 523 602 523 603 523 604 523 607 523 608 523 612 523 618 524 618 522 622 523 622 522 724 522 734 523 736 523 739 524 751 522 751 524 765 523 787 523 844 523 872 523 951 523 461 525 531 526 564 526 572 524 577 525 586 524 590 525 590 525 596 526 599 524 601 526 619 526 719 525 729 525 729 524 741 526 762 525 822 526 862 526 519 527 546 526 554 528 570 527 572 527 574 526 576 527 580 526 605 527 604 527 611 527 613 526 615 526 723 526 725 528 839 526 851 527 854 528 902 528 538 529 557 530 567 529 580 529 591 529 593 528 595 529 595 528 598 528 599 528 601 529 604 529 719 528 719 530 722 529 763 529 824 530 859 529 481 531 496 530 541 530 559 532 567 531 566 531 578 531 582 530 586 531 585 532 604 531 709 532 711 531 715 530 723 531 725 531 736 532 745 532 764 531 912 531 460 533 513 533 525 532 536 534 541 534 551 534 553 532 553 532 560 532 583 532 715 533 732 533 748 533 751 534 774 534 793 533 808 533 447 534 493 535 494 535 546 535 553 534 585 535 590 535 591 535 594 535 597 534 704 535 705 536 724 534 734 536 734 534 743 536 761 535 779 536 877 535 895 535 905 535 549 536 553 536 566 537 568 537 568 538 573 537 575 538 577 536 576 536 581 537 711 536 728 536 727 537 733 537 738 538 766 536 880 538 477 540 488 539 550 539 556 539 558 539 566 539 572 539 574 538 587 538 702 539 706 539 708 539 735 539 749 538 772 538 881 539 474 542 473 542 524 541 542 542 547 541 557 542 560 542 558 540 560 541 562 541 562 542 568 540 569 541 572 541 578 540 705 542 710 542 711 540 715 541 715 540 717 540 717 541 721 540 723 540 730 541 742 542 772 541 458 542 463 543 466 543 553 543 555 544 554 542 554 542 557 542 565 543 572 543 572 542 702 544 703 543 702 544 731 542 825 543 865 543 464 545 480 545 544 545 545 545 547 545 569 544 572 545 697 545 699 545 704 545 742 545 857 545 437 547 456 548 498 547 519 548 519 546 530 548 533 547 534 546 544 548 547 547 550 547 548 547 559 546 566 547 567 547 568 547 567 548 572 547 698 547 700 548 709 548 714 546 717 547 740 547 740 548 751 547 832 548 487 548 501 549 531 548 533 549 533 549 536 549 535 549 542 549 552 549 556 550 557 548 564 549 564 549 698 548 699 549 701 549 702 549 710 550 711 549 716 550 844 550 860 549 462 550 465 551 465 552 466 550 479 551 481 551 502 551 527 552 538 552 542 550 546 551 554 550 562 552 564 551 567 551 568 551 693 551 698 551 699 550 707 552 727 552 771 550 819 552 838 551 870 551 454 553 453 553 456 553 461 554 465 553 468 554 469 553 483 553 495 552 496 553 500 553 533 552 540 553 543 553 555 554 559 553 695 554 699 554 709 553 714 552 739 553 828 552 444 555 449 554 454 555 471 555 485 555 502 555 527 555 531 555 534 555 536 555 537 555 537 555 538 555 544 555 547 554 546 555 552 555 551 555 552 556 557 555 559 555 700 555 706 554 706 555 721 554 730 555 734 556 452 557 473 557 483 558 488 556 497 556 524 558 524 557 524 557 534 557 552 557 689 558 688 558 691 557 421 559 437 558 451 560 454 559 452 560 462 558 465 560 477 560 476 559 482 559 492 559 523 560 523 560 525 559 531 559 536 560 537 559 541 559 543 559 546 560 688 560 692 560 693 560 709 559 751 559 764 558 454 560 488 561 512 561 524 561 527 562 529 562 532 562 533 561 535 562 541 561 548 561 687 561 690 561 690 562 695 562 702 562 750 560 751 561 772 562 430 562 439 563 448 564 452 564 459 564 467 563 468 562 470 563 473 563 494 563 494 563 508 563 517 563 519 563 529 563 536 563 539 564 543 563 544 562 684 564 683 562 687 563 693 563 694 564 704 563 707 563 743 564 745 563 441 564 443 566 449 565 449 565 456 565 467 565 470 565 470 564 477 566 495 564 497 565 508 566 506 566 509 564 510 565 516 565 518 565 532 564 535 565 537 566 540 565 539 564 692 565 698 566 700 565 704 565 429 566 436 567 436 567 440 567 453 567 457 567 463 568 464 567 471 567 486 566 500 567 510 567 509 567 520 568 521 567 523 566 526 567 531 567 689 566 695 567 706 567 771 567 434 569 442 568 441 568 463 569 480 569 488 569 493 568 494 569 506 569 510 570 525 568 526 569 752 570 419 571 420 572 432 571 462 571 470 570 482 570 486 572 498 571 513 570 514 572 519 570 523 571 680 571 681 570 684 572 685 570 697 571 720 571 732 571 432 573 437 573 448 573 469 572 474 573 485 573 485 574 506 574 509 574 522 573 523 573 525 574 679 573 683 572 687 572 687 573 701 573 437 576 439 575 442 576 447 575 449 575 459 575 460 574 466 575 465 576 471 574 475 574 478 574 478 575 483 575 485 574 486 574 491 575 494 575 495 574 495 575 496 575 497 574 505 574 508 574 514 575 516 574 516 574 518 576 519 576 518 576 520 575 674 574 680 575 692 575 698 574 701 576 706 574 733 576 778 575 784 575 435 578 435 576 447 576 449 577 472 577 487 577 493 577 505 578 510 578 511 577 676 578 677 577 679 577 700 576 706 577 733 576 736 578 435 579 436 580 438 578 440 579 456 579 457 578 458 579 463 578 467 579 467 578 471 579 474 579 480 579 481 578 486 578 489 579 500 580 506 579 508 580 510 579 681 578 751 578 754 578 439 580 447 581 447 582 450 582 453 582 459 582 464 581 466 581 466 582 482 582 480 581 491 581 493 580 496 580 501 582 503 581 673 581 691 582 696 581 398 583 421 583 444 583 446 583 448 582 473 583 473 582 485 584 672 583 670 583 671 583 675 582 679 583 692 584 704 583 702 583 429 585 440 585 442 586 450 585 449 584 453 585 458 585 457 584 691 585 417 586 429 587 436 587 439 587 439 586 450 587 449 587 452 587 452 587 675 587 692 587 755 588 430 589 439 588 675 589 423 591 428 591 441 592 446 591 446 590 676 591 679 592 685 590 691 591 425 592 427 592 430 594 438 592 440 593 440 592 675 594 426 594 431 595 433 596 433 595 435 596 437 595 436 594 437 595 439 594 670 595 733 595 437 597 437 598 667 596 422 598 424 600 428 599 429 600 432 598 430 599 432 598 665 600 743 599 420 601 665 602 672 600 420 602 424 603 665 603 707 603 712 603 713 602 732 603 733 603 384 605 417 605 662 606 685 606 404 607 415 607 418 607 418 607 425 608 424 607 428 608 427 607 662 607 663 606 416 610 658 609 686 609 668 611 688 610 410 613 416 613 416 612 418 613 422 613 658 613 658 612 664 613 665 614 674 613 423 615 664 616 673 615 676 615 396 617 421 618 668 618 413 620 415 618 421 620 652 619 656 618 661 618 413 621 413 621 420 620 418 621 664 622 412 622 418 623 418 623 673 623 414 625 415 624 645 624 650 624 649 625 652 626 652 624 655 624 418 628 417 626 407 629 407 628 410 629 415 628 644 630 653 629 656 630 660 629 637 631 641 631 643 631 643 630 646 632 648 631 408 633 413 634 415 634 636 632 638 632 650 633 656 634 407 636 411 635 412 635 636 635 638 634 644 636 645 634 645 636 386 637 399 636 410 636 410 638 411 638 638 638 648 637 652 636 654 637 406 640 407 640 408 638 409 639 411 638 628 639 632 638 631 640 635 638 637 638 651 639 404 641 624 641 627 641 631 641 630 640 634 642 632 641 634 641 647 642 401 642 405 642 410 642 410 642 402 646 408 644 407 644 408 646 408 645 410 646 620 645 620 645 622 646 623 645 624 645 623 645 624 646 625 646 628 646 627 644 627 645 631 645 404 647 407 647 408 648 615 646 618 646 626 647 638 646 648 647 383 649 406 648 611 649 614 648 619 649 619 648 634 649 645 649 395 652 405 651 407 652 611 650 628 651 632 651 378 653 403 653 406 654 603 653 610 652 613 653 619 652 618 653 402 656 404 655 604 654 607 655 606 656 608 655 610 655 609 654 613 656 617 655 621 654 639 655 400 657 595 657 608 656 616 657 624 656 398 659 591 658 595 659 596 659 597 659 597 659 601 658 608 659 617 659 617 660 619 659 389 661 393 661 392 662 393 662 398 661 401 661 598 661 599 662 607 660 610 661 611 661 613 661 617 662 648 660 586 663 592 664 614 663 619 662 392 664 393 665 401 666 401 665 581 665 581 666 584 666 582 665 588 666 588 665 593 666 592 664 596 666 606 665 606 664 607 664 609 665 611 665 633 666 399 667 398 667 399 668 400 668 400 668 399 668 573 667 577 666 593 666 594 667 604 666 624 667 390 668 396 668 569 668 572 669 581 669 596 669 607 670 393 670 395 670 396 670 397 671 562 672 580 672 581 672 589 671 589 671 595 671 597 670 596 670 599 670 608 670 623 670 395 674 560 673 566 674 577 674 582 673 594 672 601 674 390 674 556 675 555 675 565 674 573 676 576 675 577 675 594 675 594 674 601 674 604 675 371 678 395 676 548 678 552 678 558 678 567 676 570 677 581 678 583 677 593 677 386 680 391 680 392 679 391 679 392 679 393 678 392 680 395 679 394 678 543 680 555 679 556 678 561 679 564 679 564 679 564 678 566 678 572 680 573 679 579 678 582 678 581 679 588 679 586 679 593 679 597 678 635 679 390 681 392 681 541 680 543 681 546 682 562 681 561 680 562 681 565 681 577 681 590 681 623 680 391 684 394 683 393 684 532 683 534 684 535 684 540 683 538 684 541 682 544 684 548 682 560 682 571 683 574 683 580 683 581 682 585 683 589 683 591 684 535 684 538 686 541 686 541 685 542 685 559 685 563 685 563 685 570 685 578 684 578 686 581 685 584 684 592 686 597 685 389 687 389 688 519 687 521 688 522 686 521 686 529 688 532 688 536 687 537 687 541 688 543 687 545 687 545 687 547 688 549 687 549 688 555 687 560 687 563 687 564 688 575 688 387 689 388 689 513 690 514 689 517 688 517 689 528 688 562 689 580 689 508 692 512 691 526 690 530 691 538 691 539 690 546 691 572 690 588 691 596 690 601 692 642 692 383 692 383 694 390 693 500 693 503 692 503 693 503 693 503 692 505 693 512 694 521 692 524 692 537 694 538 693 544 692 549 694 558 694 562 693 570 693 569 693 574 692 581 693 599 694 501 695 504 696 514 694 514 696 519 694 522 695 526 695 528 696 533 694 580 694 590 696 593 694 383 697 384 696 489 696 499 697 501 696 505 696 509 697 508 696 510 698 510 697 518 697 526 697 529 698 530 697 533 698 538 696 577 697 612 696 363 700 385 699 486 699 490 698 493 700 498 698 503 699 509 698 510 699 516 699 517 700 526 700 530 700 529 699 598 698 386 701 385 701 475 700 480 701 482 702 484 701 483 701 487 700 508 701 509 701 513 701 517 701 518 700 518 702 526 701 535 702 542 700 630 701 366 702 383 703 469 703 478 704 481 702 491 704 492 703 494 703 496 703 500 703 506 704 511 704 526 704 555 702 557 702 557 703 561 704 379 705 381 705 380 705 382 705 382 705 464 706 464 705 465 705 468 704 470 704 475 705 475 705 475 704 478 704 485 706 487 704 492 705 495 706 507 705 532 704 553 704 564 705 575 705 606 706 381 708 463 708 465 707 482 708 487 707 491 707 519 708 535 708 546 707 549 707 366 709 373 709 459 709 461 709 466 709 476 709 480 709 497 710 499 710 506 708 525 709 531 710 562 709 576 709 604 709 360 712 462 712 463 711 476 710 478 711 476 711 480 712 485 710 489 710 509 711 528 710 535 712 373 714 467 713 472 712 472 714 502 712 609 712 456 714 468 716 473 715 489 714 491 714 494 715 497 715 499 715 503 714 512 715 515 715 529 715 538 715 544 715 555 716 453 716 456 717 458 717 459 718 463 717 482 716 486 717 497 716 521 717 453 718 454 719 463 719 467 719 483 718 486 718 484 719 488 719 534 718 574 718 372 721 454 721 458 720 458 721 467 720 525 721 527 721 448 722 449 723 452 724 453 723 460 723 477 722 481 722 446 726 458 725 461 725 461 724 465 725 464 726 470 725 470 725 486 725 452 727 453 726 454 726 463 727 515 727 539 726 574 727 448 728 451 729 453 728 462 728 448 731 454 732 464 730 441 734 445 733 445 734 446 734 446 734 454 733 462 733 493 733 449 735 450 735 452 736 457 735 460 734 500 734 440 737 441 737 442 736 445 737 448 737 455 737 455 737 459 738 471 738 472 737 474 738 442 739 445 738 446 738 449 739 458 738 480 739 444 740 446 741 448 741 461 741 484 742 497 741 373 744 436 742 436 743 438 742 450 744 461 743 480 743 541 742 441 744 446 746 447 745 449 746 454 744 455 745 456 746 481 744 348 748 373 747 484 747 487 746 351 750 365 750 429 748 434 749 434 750 436 749 439 748 445 748 448 750 376 751 434 750 434 751 443 751 444 750 447 751 471 750 494 751 540 750 369 753 378 753 378 754 426 752 426 753 432 752 433 753 433 754 441 754 445 753 449 754 480 752 374 756 432 755 435 755 441 755 451 755 453 756 377 757 421 757 424 757 426 757 427 757 444 757 514 758 341 759 368 759 369 760 373 759 374 760 373 758 377 759 379 760 430 759 431 759 434 759 439 760 323 760 369 761 377 762 422 760 431 761 440 761 446 761 469 762 353 764 372 764 376 764 382 762 382 763 422 764 428 763 435 763 441 762 444 764 453 763 368 765 373 764 374 765 380 766 412 765 415 764 414 765 436 765 448 764 348 767 375 766 377 766 382 767 413 766 414 767 415 767 417 768 420 766 421 768 421 767 425 766 432 767 440 768 442 767 448 767 452 767 371 768 379 770 382 769 386 769 416 770 416 768 418 770 421 768 422 770 428 768 440 768 444 770 443 770 445 770 448 768 367 772 370 771 376 772 379 771 385 770 408 770 410 772 411 771 410 770 414 771 422 770 420 770 428 772 431 771 437 771 376 773 405 773 404 774 414 774 412 773 414 772 413 772 417 773 419 772 428 773 434 773 432 773 342 775 352 774 369 775 371 775 375 776 385 775 387 776 399 775 413 774 428 776 429 775 355 777 368 778 371 778 381 777 401 778 413 777 414 776 418 776 421 778 424 777 425 777 427 777 444 778 454 778 378 779 383 779 382 780 385 779 386 779 397 780 403 780 406 778 417 779 422 780 429 778 428 779 434 779 439 779 439 779 439 778 338 781 366 782 370 781 369 781 372 781 382 781 383 781 395 782 397 782 408 782 414 781 417 782 425 780 434 782 438 780 437 782 442 781 446 782 368 782 371 783 377 783 386 783 386 783 390 782 394 783 398 782 400 783 400 783 403 783 405 784 406 784 407 783 409 783 424 784 431 782 431 782 373 784 374 785 380 784 389 786 393 784 398 785 397 785 401 786 402 786 408 786 411 784 411 785 429 785 434 784 432 784 437 784 364 786 369 787 372 786 371 787 370 786 405 786 408 786 412 787 416 787 415 787 420 787 427 787 432 786 434 786 453 787 486 786 345 788 370 789 372 789 376 789 377 790 380 789 383 788 387 790 388 789 397 789 403 789 407 789 410 788 418 790 424 789 437 789 370 790 373 791 374 791 378 792 380 790 382 791 383 791 389 792 389 791 394 790 402 792 404 790 410 791 412 791 414 791 424 791 439 791 362 793 377 792 379 792 384 794 386 793 393 793 399 792 407 794 415 794 423 794 426 793 430 792 321 795 371 795 381 794 391 794 401 795 406 795 407 795 411 794 415 796 440 794 325 796 340 797 368 796 371 797 377 797 381 797 390 796 399 796 403 797 409 797 411 796 412 796 429 797 371 798 382 798 391 798 395 799 416 798 428 800 450 799 330 801 365 801 365 801 366 801 370 801 389 801 393 802 402 800 404 801 404 801 406 802 407 801 407 801 419 800 424 801 423 800 431 802 441 801 338 803 380 802 385 802 389 804 389 803 395 803 397 804 422 803 360 806 362 806 370 806 378 806 396 804 401 804 403 806 422 806 376 807 376 807 378 808 392 807 392 807 393 808 403 806 403 807 413 808 420 807 329 809 363 809 376 808 382 810 393 809 397 808 398 809 421 808 424 810 334 811 359 811 359 811 369 811 382 811 384 811 396 811 396 811 399 812 412 810 364 814 365 812 372 812 382 813 408 814 407 813 420 812 423 814 424 814 444 814 366 815 372 816 378 815 382 816 384 815 392 816 390 815 397 816 401 816 401 816 409 814 414 815 418 816 319 816 363 817 364 817 370 817 378 817 382 816 393 817 398 817 400 818 404 817 413 818 412 816 446 817 354 818 359 819 376 819 378 819 392 819 394 818 401 820 413 819 413 820 425 819 359 821 374 821 373 821 380 821 390 822 393 820 393 822 395 820 399 822 399 822 414 821 420 821 421 820 354 823 370 823 372 822 373 824 375 823 387 822 416 824 418 823 420 822 348 825 359 825 364 825 367 824 379 826 384 825 385 826 393 825 397 826 396 825 401 825 405 826 409 825 409 824 421 824 372 827 384 828 385 828 388 826 395 826 394 828 399 828 406 827 411 827 412 828 432 827 344 829 354 829 373 828 378 828 386 828 417 829 421 829 330 831 335 831 356 831 360 830 369 830 373 832 376 830 383 831 394 831 402 831 407 831 352 832 374 832 377 833 383 834 396 833 399 833 399 832 401 832 404 834 408 833 365 835 367 835 370 836 377 836 377 835 387 835 389 836 406 836 409 834 413 835 343 837 360 837 362 836 362 836 370 837 387 836 391 838 392 838 393 837 400 837 409 838 339 840 346 839 387 840 402 840 405 840 406 839 406 839 428 838 318 841 323 842 342 842 367 841 372 841 375 841 379 841 382 842 387 840 391 841 403 840 405 841 406 840 358 844 359 844 363 844 372 843 373 844 389 844 391 842 394 844 405 842 359 844 360 844 364 845 367 845 370 845 373 845 375 846 375 845 384 846 383 844 392 844 395 844 399 846 402 845 437 844 443 844 344 848 345 848 368 848 367 846 385 848 385 847 319 850 385 849 384 850 390 849 397 849 406 849 342 851 362 851 370 851 372 851 374 851 384 851 386 852 400 851 407 850 336 852 345 853 345 854 352 852 383 854 305 856 337 855 340 855 344 855 348 855 355 855 369 855 372 855 384 856 386 855 397 854 334 858 367 857 370 858 377 857 386 857 316 860 358 859 357 858 362 859 362 860 370 859 375 858 376 859 393 858 319 862 348 861 354 861 359 860 360 861 367 860 375 860 380 861 396 860 394 861 397 860 318 862 349 862 366 864 376 863 397 864 326 865 332 864 342 865 359 864 362 864 374 865 378 865 382 864 380 866 389 866 399 864 320 867 340 868 339 868 342 868 344 867 353 866 366 866 370 868 387 868 399 867 404 867 416 867 333 869 336 868 342 870 364 868 391 869 407 870 288 872 327 871 342 872 344 870 345 871 356 871 369 871 400 872 294 874 314 873 317 872 316 873 348 872 375 873 295 875 362 874 369 875 393 874 399 874 310 877 337 877 367 877 373 878 376 878 400 878 385 881 387 881 395 881 375 886 378 884 287 887 302 887 370 887 392 887 353 891 353 891 286 898 393 900 410 899 327 901 334 901 344 902 382 907 368 910 388 918 359 924 231 824" fill="none" stroke="none" marker-start="url(#g)" marker-mid="url(#g)" marker-end="url(#g)"/>
<path d="M331 725 543 608 436 737 544 607 515 653 528 635 549 620 455 671 339 781 340 782 350 876 357 874 437 519 407 779 332 844 518 642 450 680 337 852 489 637 380 859 517 621 330 830 343 777 495 647 390 849 516 593 406 769 339 847 349 675 508 644 360 870 343 786 453 534 344 867 338 804 348 781 343 799 511 562 458 549 436 699 449 659 334 820 436 525 338 809 520 579 417 750 481 557 497 617 510 606 345 850 346 794 344 844 353 855 371 845 364 861 460 636 348 683 344 818 379 590 402 779 351 864 346 846 384 577 377 597 469 634 349 790 507 563 346 762 507 598 373 846 347 853" fill="none" stroke="none" marker-start="url(#b0)" marker-mid="url(#b0)" marker-end="url(#b0)"/>
<path d="M400 800 392 568 363 633 368 852 406 544 491 561 351 777 406 758 455 550 477 560 508 562 355 799 510 590 443 675 508 571 343 822 441 679 381 589 434 704 427 531 351 673 375 841 364 624 367 840 347 798 402 764 371 614 345 760 440 692 352 679 359 783 513 584 444 670 350 683 428 712 456 564 498 605 501 603 506 574 498 562 505 601 459 639 505 583 349 696 494 612 447 648 367 628 362 841 466 629 410 546 460 634 355 777 410 749 394 813 443 665 369 827 351 697 496 606 427 719 442 680 396 798 357 827 470 624 413 747 420 732 353 806 505 593 363 788 355 676 371 826 448 651 362 805 448 546 358 826 488 564 424 721 449 551 458 565 459 569 356 783 352 825 399 800 441 675 487 615 365 835 352 695 501 569 350 744 399 761 354 690 471 570 354 677 362 832 425 542 406 553 370 826 361 820 506 586 494 604 459 574 427 713 414 740 435 693 498 586 395 805 414 548 391 580 358 657 352 678 504 575 394 803 364 823 363 647 497 593 477 618 436 688 354 768 362 829 361 651 356 681 351 752 433 691" fill="none" stroke="none" marker-start="url(#b1)" marker-mid="url(#b1)" marker-end="url(#b1)"/>
<path d="M380 606 421 719 398 761 354 772 387 819 440 676 368 625 475 621 356 770 356 771 394 797 375 618 443 556 397 793 389 813 447 637 364 824 399 761 477 619 434 688 467 618 373 819 430 705 351 724 364 812 475 575 462 623 419 726 375 826 379 605 354 755 460 579 359 772 367 795 480 614 498 589 367 785 479 574 411 741 378 822 485 575 387 819 393 788 403 749 369 806 368 801 393 583 360 769 428 547 371 822 372 778 449 572 404 747 415 731 393 760 374 618 473 616 445 578 382 603 395 762 491 579 364 765 481 611 392 795 358 682 355 708 491 586 418 558 391 795 361 672 444 629 402 574 478 610 416 724 366 771 390 770 449 620 392 783 494 585 355 722 486 603 358 682 387 812 485 595 448 582 434 562 467 618 382 761 488 592 389 762 393 592 414 559" fill="none" stroke="none" marker-start="url(#b2)" marker-mid="url(#b2)" marker-end="url(#b2)"/>
<path d="M361 676 388 796 365 663 409 570 366 761 404 572 418 555 441 653 465 616 369 761 373 774 372 782 401 750 355 714 405 572 435 668 439 563 467 615 375 631 384 811 415 561 417 715 415 558 452 623 472 614 356 714 385 602 410 565 468 585 404 740 384 607 419 564 431 561 385 809 373 795 447 627 419 562 442 587 434 559 382 765 480 606 435 662 373 777 441 580 356 734 388 785 361 737 358 738 399 744 416 569 386 763 358 714 391 775 379 760 380 811 411 726 360 705 422 560 473 603 437 654 411 568 359 705 364 672 359 715 432 568 441 633 386 604 414 715 362 740 456 588 362 737 444 622 377 631 369 753 450 608 435 653 362 674 360 706 374 750 367 657 385 610 467 588 478 599 406 731 374 641 375 754 387 752 452 593 377 797 397 588 442 598 382 775 360 711 462 586 405 730 382 755 364 674 377 759 444 614 437 583 375 749 381 625 473 605 402 582 422 568 368 741 440 641 385 779 456 592 430 569" fill="none" stroke="none" marker-start="url(#b3)" marker-mid="url(#b3)" marker-end="url(#b3)"/>
<path d="M451 612 364 748 441 627 368 744 449 606 438 644 425 683 407 724 362 725 391 601 450 603 418 706 439 627 432 664 458 596 367 679 365 690 393 741 377 788 398 591 369 659 437 599 398 591 394 600 401 589 381 624 425 573 368 662 385 792 405 584 375 647 398 593 392 746 438 628 363 690 366 734 436 635 437 644 444 605 378 638 365 681 375 646 395 737 457 599 443 603 382 618 426 674 409 585 435 578 369 669 414 713 386 747 376 647 381 749 424 580 378 646 403 728 435 642 422 574 435 585 383 743 461 602 394 733 364 709 434 600 386 787 436 602 385 621 432 644 410 716 414 582 441 609 379 784 464 603 437 615 372 731 439 611 406 720 372 728 424 680 460 596 406 719 394 612 401 600 368 702 366 704" fill="none" stroke="none" marker-start="url(#b4)" marker-mid="url(#b4)" marker-end="url(#b4)"/>
<path d="M435 631 373 728 375 653 373 660 424 584 410 706 366 700 402 599 422 687 384 636 390 619 416 583 369 715 382 741 385 734 406 716 369 688 419 689 402 722 388 734 370 688 372 688 371 685 408 707 432 647 386 635 420 587 369 693 408 595 392 618 382 649 392 730 371 701 384 636 402 719 374 677 423 672 390 728 429 614 424 600 399 722 431 609 372 680 398 713" fill="none" stroke="none" marker-start="url(#b5)" marker-mid="url(#b5)" marker-end="url(#b5)"/>
<path d="M406 608 421 668 382 722 396 716 425 603 407 604 408 702 381 648 379 667 404 605 392 627 388 639 417 604 416 681 423 611 377 696 382 713 402 612 414 606 376 703 418 674 406 695 409 606 379 669 395 712 418 600 406 611 397 707 379 685 383 720 422 649 420 615 422 631 383 705 412 686 383 662 399 707 392 714 403 615 377 696" fill="none" stroke="none" marker-start="url(#b6)" marker-mid="url(#b6)" marker-end="url(#b6)"/>
<path d="M423 622 387 644 423 626 384 651 410 683 399 624 406 693 398 625 415 616 385 664 381 684 378 691 421 640 418 630 416 623 416 662 409 621 408 686 419 656 386 701 407 617 383 679 410 678 384 679 399 630 409 684 418 649 399 630 383 672 383 674 420 649 416 622" fill="none" stroke="none" marker-start="url(#b7)" marker-mid="url(#b7)" marker-end="url(#b7)"/>
<path d="M396 643 384 691 387 692 397 697 413 634 415 637 409 624 407 675 398 639 398 693 404 635 407 632 405 678 389 686 395 693 391 692 388 686 389 683 389 679 413 656 390 693 410 663 389 682 415 641 413 636 401 679 392 674 395 688 411 639 398 688 393 657 403 676" fill="none" stroke="none" marker-start="url(#b8)" marker-mid="url(#b8)" marker-end="url(#b8)"/>
<path d="M393 656 409 634 399 647 397 681 398 649 412 639 394 686 400 675 410 660 403 644 404 672 394 676 407 657 393 669 406 645 397 660 402 660" fill="none" stroke="none" marker-start="url(#b9)" marker-mid="url(#b9)" marker-end="url(#b9)"/>
<path d="M1253 122 1014 118 946 326 1187 46 1168 77 1218 91 1204 245 1005 130 1208 233 1133 85 1139 69 1055 379 972 385 951 322 953 266 1077 87 1210 90 1172 94 1211 156 1148 302 984 142 1164 65 1105 65 1213 122 979 184 1137 304 995 148 1142 325 1003 186 972 299 1018 157 1158 91 982 230 1157 98 1197 191 1101 86 1143 104 979 379 1123 115 1204 154 1125 97 1143 311 1155 107 1048 118 955 355 1130 98 1183 173 1076 134 1205 162 1184 194 1088 127 1113 321 1067 121 969 271 1179 168 1104 110 1003 197 984 184 1028 156 1019 166 1053 157 957 358 959 321 1025 151 1160 272 1174 196 1167 178 1096 127 1014 180 1035 161 1004 192 1069 124 1159 120 1176 240 1197 164 1172 225 1129 303 1196 206 1075 334 1100 110 1165 233 977 277 1032 150 1170 115 1109 137 1050 375 1033 383 954 353 1084 337 976 255 1163 175 1050 378 1171 142 1072 123 1084 112 1057 156 1031 378 1081 137 1157 162 1070 135 983 294 1091 114 1137 289 1168 160 1007 387 1079 141 1079 326 1161 159 1177 149 991 222 1087 328 1167 166 955 335 1077 148 1170 171 1071 333 1006 384 1158 153 1137 123 982 249 1059 159 1105 141 962 356 1160 137 1158 126 1149 117 986 294 980 284 1152 263 976 303 963 321 1047 367 1073 328 1067 338 1057 362 993 228 970 312 1126 132 1153 128 1046 168 975 309 1048 368 1162 150 1145 167 1002 362 1014 373 1121 147" fill="none" stroke="none" marker-start="url(#r0)" marker-mid="url(#r0)" marker-end="url(#r0)"/>
<path d="M1149 161 998 209 1007 361 1021 373 1158 193 1126 155 1084 155 1025 364 975 356 986 281 1049 356 1129 158 1149 158 1065 331 980 301 1156 246 1132 288 1024 369 1121 159 1057 326 973 312 1100 311 1133 133 1150 178 1147 120 1112 304 965 322 1116 296 1156 194 1158 208 1015 194 996 357 995 355 987 243 1126 140 968 333 1081 320 1051 167 1151 189 1134 133 999 356 1141 163 987 258 1016 362 989 355 1065 162 1128 138 1071 325 995 232 1156 220 1143 271 1154 141 990 268 1094 311 989 356 1057 343 1044 349 1106 304 967 345 1020 362 982 305 1088 155 1155 142 1038 179 1120 158 1039 350 1081 319 998 230 995 237 987 267 986 357 1037 183 1057 322 1051 338 1002 222 1094 310 996 245 1153 204 1130 161 1030 186 1144 178 1113 299 991 276 1157 219 999 295 1044 348 1009 347 1151 143 1032 187 1001 222 1141 185 1148 185" fill="none" stroke="none" marker-start="url(#r1)" marker-mid="url(#r1)" marker-end="url(#r1)"/>
<path d="M1140 184 1133 136 1030 184 1142 134 1136 135 1148 150 1117 164 999 348 1025 335 969 340 1032 329 1146 154 1147 196 996 352 1044 339 1147 242 1026 336 1150 222 1106 161 1145 152 995 275 1145 136 985 349 1114 292 976 350 1146 249 1005 349 1020 339 1025 349 993 259 992 253 1054 318 981 352 1028 352 1028 329 1114 164 1151 210 1027 352 1145 145 1047 318 1001 300 1146 237 998 350 1146 139 996 273 1022 201 1033 194 1141 246 1039 314 1124 175 1066 172 975 333 1011 214 1137 261 1109 294 999 277 995 265 986 343 1144 246 1138 250 1014 215 1006 292 1086 165 1134 145 1003 344 1088 166 1054 314 976 325 998 343 1031 344 1072 173 1015 341 996 304 1070 172 1138 250 1041 187 1083 172 1095 169 1089 305 1058 175 1124 272 1060 174 1094 169 1001 264 1113 175 985 339 1056 312 1119 176 1092 301 981 323 1085 172 1019 338 999 266 1022 209 1135 183 1008 230 1026 331 1138 249 1023 207 1033 316" fill="none" stroke="none" marker-start="url(#r2)" marker-mid="url(#r2)" marker-end="url(#r2)"/>
<path d="M1100 293 1134 260 1021 214 1032 318 1023 210 1006 238 1045 313 1107 176 1071 174 1011 339 1067 178 1131 261 1115 174 1126 183 982 333 1009 342 1093 296 1009 289 1010 303 1121 270 1024 329 1138 229 1021 212 1040 305 1062 178 1027 301 1007 247 1072 180 1013 233 1032 308 1025 307 1049 307 1125 267 1020 305 1007 254 1057 184 1112 279 1026 300 1072 177 1068 303 1004 339 1085 175 1142 235 1026 300 1080 173 1094 175 992 317 999 340 1135 205 1027 301 996 308 1029 298 991 334 1124 180 1127 265 1075 305 1029 314 1040 307 1019 291 1106 178 1012 282 1137 210 1118 181 989 318 1010 266 1095 178 1071 304 1064 307 1090 297 1032 206 1016 283 1022 322 1003 337 1093 180 1116 182 1008 306 1016 331 1120 186 1136 224 1038 296 1128 260 1033 295 1066 186 1021 326 1092 291 1042 304 1004 335 1067 301 1129 239 1071 301 1002 336 1050 192 1021 310 1029 218 1002 334" fill="none" stroke="none" marker-start="url(#r3)" marker-mid="url(#r3)" marker-end="url(#r3)"/>
<path d="M1022 317 1014 260 1027 219 1027 289 1058 187 1012 248 1105 185 1096 182 1017 266 1007 330 1016 250 1020 314 1131 233 1005 333 1020 277 1081 290 1020 275 1016 259 1105 280 1129 236 1016 265 1103 279 996 332 1099 181 1039 207 1017 314 994 325 1088 183 1020 312 1019 247 1065 301 1054 195 1124 250 1000 332 1066 188 1083 288 1052 297 1120 194 1023 281 1091 187 1063 295 1097 187 1036 212 1028 288 1023 284 1090 186 1042 296 1037 291 1006 327 1055 293 1104 277 1126 218 1075 189 1044 205 1019 270 1078 291 1118 198 1023 248 1099 276 1063 195 996 325 1122 218 1118 208 1016 262 1124 213 1089 285 1048 292 1065 296 1110 261 1078 186 1028 280 1097 193 1015 320 1118 245 1091 283 1080 285 1121 208 1104 267 1041 215 1123 238" fill="none" stroke="none" marker-start="url(#r4)" marker-mid="url(#r4)" marker-end="url(#r4)"/>
<path d="M1111 262 1022 249 1102 195 1121 219 1108 199 1007 316 1123 225 1055 200 1077 290 1024 272 1099 191 1100 195 1082 194 1081 194 1080 282 1029 269 1116 249 1119 234 1084 196 1045 287 1121 223 1034 231 1050 289 1120 229 1115 253 1027 254 1035 226 1064 197 1024 256 1028 234 1100 268 1114 211 1032 268 1114 252 1058 284 1117 232 1115 247 1104 264 1060 285 1054 287 1113 211 1087 197 1104 260 1039 280 1061 283 1087 197 1112 219 1044 217 1030 272 1074 285 1102 204 1035 275 1114 230 1096 270 1078 199 1038 270 1106 251 1031 237 1108 214 1032 255 1111 220 1071 285 1111 249 1032 259 1049 214 1058 281 1051 286 1079 198 1093 203 1093 203 1085 203 1116 233" fill="none" stroke="none" marker-start="url(#r5)" marker-mid="url(#r5)" marker-end="url(#r5)"/>
<path d="M1041 222 1039 273 1111 218 1038 273 1115 234 1070 278 1073 204 1110 248 1108 227 1087 273 1038 267 1051 216 1055 211 1103 208 1046 223 1093 204 1111 244 1096 209 1054 212 1035 255 1106 251 1070 276 1073 276 1107 237 1046 276 1101 213 1106 224 1037 242 1037 238 1110 242 1054 278 1110 239 1067 207 1094 208 1086 208 1058 213 1083 268 1103 222 1046 227 1056 276 1104 236 1059 216 1045 234 1108 224 1088 264 1053 277 1044 237 1102 225 1075 272 1078 212 1094 213 1108 236 1058 219" fill="none" stroke="none" marker-start="url(#r6)" marker-mid="url(#r6)" marker-end="url(#r6)"/>
<path d="M1107 234 1041 248 1091 263 1096 212 1074 271 1089 259 1047 273 1088 209 1061 215 1063 218 1096 249 1042 245 1041 261 1043 257 1088 258 1073 213 1043 260 1060 224 1089 217 1097 219 1081 261 1044 245 1101 235 1102 234 1088 255 1059 220 1044 261 1054 226 1069 215 1095 219 1101 231 1056 271 1093 253 1079 264 1079 213 1093 225 1099 236 1046 250 1049 269 1052 266 1083 261 1052 236 1092 227 1046 263 1081 216 1094 245 1051 269 1096 236" fill="none" stroke="none" marker-start="url(#r7)" marker-mid="url(#r7)" marker-end="url(#r7)"/>
<path d="M1059 231 1049 266 1084 255 1080 253 1090 224 1083 222 1074 254 1079 254 1050 261 1056 237 1074 263 1091 239 1087 232 1080 228 1078 224 1065 234 1059 238 1057 243 1057 246 1053 264 1059 242 1078 226 1072 257 1067 265 1061 243" fill="none" stroke="none" marker-start="url(#r8)" marker-mid="url(#r8)" marker-end="url(#r8)"/>
<path d="M1074 251 1059 241 1063 243 1075 249 1080 246 1078 232 1059 245 1059 260 1084 244 1066 240 1075 248 1082 243 1058 260 1070 238 1057 249 1060 262 1062 250" fill="none" stroke="none" marker-start="url(#r9)" marker-mid="url(#r9)" marker-end="url(#r9)"/>
</g>
<polygon points="147.3,543.1 369.7,481.4 359.1,442.8 136.7,504.5" fill="#e3e3e3"/><ellipse cx="142.3" cy="523.2" rx="15.6" ry="22.8" transform="rotate(10 142.3 523.2)" fill="#3f8ec6" stroke="#111" stroke-width="1.5" stroke-dasharray="3 2"/><ellipse cx="364.5" cy="462.3" rx="17.5" ry="26" transform="rotate(17 364.5 462.3)" fill="#ee3a2a" stroke="#111" stroke-width="1.5" stroke-dasharray="3 2"/><circle cx="319.2" cy="454.1" r="9.3" fill="#f6e535" stroke="#111" stroke-width="1.5" stroke-dasharray="3 2"/><path d="M142.0 523.8L364.4 462.1" stroke="#000" stroke-width="2"/><path d="M134.8 523.8h14.4M142.0 515.8v16M157.0 517.6h14.4M164.2 509.6v16M179.3 511.5h14.4M186.5 503.5v16M201.5 505.3h14.4M208.7 497.3v16M223.8 499.1h14.4M231.0 491.1v16M246.0 492.9h14.4M253.2 484.9v16M268.2 486.8h14.4M275.4 478.8v16M290.5 480.6h14.4M297.7 472.6v16M312.7 474.4h14.4M319.9 466.4v16M335.0 468.3h14.4M342.2 460.3v16M357.2 462.1h14.4M364.4 454.1v16" stroke="#000" stroke-width="1.8"/>
<path d="M203.5 324.0L530.6 131.1" stroke="#000" stroke-width="1.9"/><path d="M196.0 324.0h15.0M203.5 315.9v16.2M228.7 304.7h15.0M236.2 296.6v16.2M261.4 285.4h15.0M268.9 277.3v16.2M294.1 266.1h15.0M301.6 258.0v16.2M326.8 246.8h15.0M334.3 238.7v16.2M359.6 227.6h15.0M367.1 219.5v16.2M392.3 208.3h15.0M399.8 200.2v16.2M425.0 189.0h15.0M432.5 180.9v16.2M457.7 169.7h15.0M465.2 161.6v16.2M490.4 150.4h15.0M497.9 142.3v16.2M523.1 131.1h15.0M530.6 123.0v16.2" stroke="#000" stroke-width="2"/>
<circle cx="436.8" cy="150.7" r="9.4" fill="#f6e535" stroke="#000" stroke-width="2.2"/><path d="M396.6 123.5 Q413 127 421 139" stroke="#000" stroke-width="1.6" fill="none"/><polygon points="416.4,138.8 423.2,135.2 424.4,143.2" fill="#000"/>
<rect x="582.1" y="307.30" width="15" height="9.85" fill="#1f316d"/><rect x="582.1" y="316.85" width="15" height="9.85" fill="#0b559f"/><rect x="582.1" y="326.40" width="15" height="9.85" fill="#2474b6"/><rect x="582.1" y="335.95" width="15" height="9.85" fill="#4392c6"/><rect x="582.1" y="345.50" width="15" height="9.85" fill="#6aaed6"/><rect x="582.1" y="355.05" width="15" height="9.85" fill="#86bcdc"/><rect x="582.1" y="364.60" width="15" height="9.85" fill="#9dcae1"/><rect x="582.1" y="374.15" width="15" height="9.85" fill="#c6dbef"/><rect x="582.1" y="383.70" width="15" height="9.85" fill="#dee9f6"/><rect x="582.1" y="393.25" width="15" height="9.85" fill="#f5fafe"/><rect x="605.5" y="307.30" width="15" height="8.98" fill="#67000d"/><rect x="605.5" y="315.98" width="15" height="8.98" fill="#a51c20"/><rect x="605.5" y="324.66" width="15" height="8.98" fill="#cb1e24"/><rect x="605.5" y="333.35" width="15" height="8.98" fill="#e22c26"/><rect x="605.5" y="342.03" width="15" height="8.98" fill="#f03f2c"/><rect x="605.5" y="350.71" width="15" height="8.98" fill="#f36548"/><rect x="605.5" y="359.39" width="15" height="8.98" fill="#f58a6c"/><rect x="605.5" y="368.07" width="15" height="8.98" fill="#fbb79d"/><rect x="605.5" y="376.75" width="15" height="8.98" fill="#fdd0bf"/><rect x="605.5" y="385.44" width="15" height="8.98" fill="#fee3d8"/><rect x="605.5" y="394.12" width="15" height="8.98" fill="#fff4f0"/><rect x="582.1" y="307.3" width="15" height="95.5" fill="none" stroke="#333" stroke-width="1.3"/><rect x="605.5" y="307.3" width="15" height="95.5" fill="none" stroke="#333" stroke-width="1.3"/>
<path d="M82.0 608.5v-6.8M82.0 1.5v6.3M100.4 608.5v-3.4M100.4 1.5v3.2M118.8 608.5v-3.4M118.8 1.5v3.2M137.2 608.5v-3.4M137.2 1.5v3.2M155.6 608.5v-6.8M155.6 1.5v6.3M174.0 608.5v-3.4M174.0 1.5v3.2M192.4 608.5v-3.4M192.4 1.5v3.2M210.8 608.5v-3.4M210.8 1.5v3.2M229.2 608.5v-6.8M229.2 1.5v6.3M247.6 608.5v-3.4M247.6 1.5v3.2M266.0 608.5v-3.4M266.0 1.5v3.2M284.4 608.5v-3.4M284.4 1.5v3.2M302.8 608.5v-6.8M302.8 1.5v6.3M321.2 608.5v-3.4M321.2 1.5v3.2M339.6 608.5v-3.4M339.6 1.5v3.2M358.0 608.5v-3.4M358.0 1.5v3.2M376.4 608.5v-6.8M376.4 1.5v6.3M394.8 608.5v-3.4M394.8 1.5v3.2M413.2 608.5v-3.4M413.2 1.5v3.2M431.6 608.5v-3.4M431.6 1.5v3.2M450.0 608.5v-6.8M450.0 1.5v6.3M468.4 608.5v-3.4M468.4 1.5v3.2M486.8 608.5v-3.4M486.8 1.5v3.2M505.2 608.5v-3.4M505.2 1.5v3.2M523.6 608.5v-6.8M523.6 1.5v6.3M542.0 608.5v-3.4M542.0 1.5v3.2M560.4 608.5v-3.4M560.4 1.5v3.2M578.8 608.5v-3.4M578.8 1.5v3.2M597.2 608.5v-6.8M597.2 1.5v6.3M615.6 608.5v-3.4M615.6 1.5v3.2M634.0 608.5v-3.4M634.0 1.5v3.2M652.4 608.5v-3.4M652.4 1.5v3.2M63.5 585.8h7M671.0 585.8h-6.5M63.5 509.8h7M671.0 509.8h-6.5M63.5 433.8h7M671.0 433.8h-6.5M63.5 357.8h7M671.0 357.8h-6.5M63.5 281.8h7M671.0 281.8h-6.5M63.5 205.8h7M671.0 205.8h-6.5M63.5 129.8h7M671.0 129.8h-6.5M63.5 53.8h7M671.0 53.8h-6.5" stroke="#222" stroke-width="1.5" fill="none"/><rect x="63.5" y="1.5" width="607.5" height="607.0" fill="none" stroke="#222" stroke-width="1.5"/>
<circle cx="353" cy="1.6" r="1.5" fill="#fff" stroke="#c3c3c3" stroke-width="1.1"/>
<text x="77.9" y="631" text-anchor="middle" class="tk">0.4</text><text x="152.3" y="631" text-anchor="middle" class="tk">0.6</text><text x="226.0" y="631" text-anchor="middle" class="tk">0.8</text><text x="304.8" y="631" text-anchor="middle" class="tk">1.0</text><text x="372.7" y="631" text-anchor="middle" class="tk">1.2</text><text x="446.7" y="631" text-anchor="middle" class="tk">1.4</text><text x="520.8" y="631" text-anchor="middle" class="tk">1.6</text><text x="594.6" y="631" text-anchor="middle" class="tk">1.8</text><text x="672.3" y="631" text-anchor="middle" class="tk">2.0</text><text x="56.5" y="592.7" text-anchor="end" class="tk">-50</text><text x="56.5" y="516.7" text-anchor="end" class="tk">-40</text><text x="56.5" y="440.7" text-anchor="end" class="tk">-30</text><text x="56.5" y="364.7" text-anchor="end" class="tk">-20</text><text x="56.5" y="288.7" text-anchor="end" class="tk">-10</text><text x="56.5" y="212.7" text-anchor="end" class="tk">0</text><text x="56.5" y="136.7" text-anchor="end" class="tk">10</text><text x="56.5" y="60.7" text-anchor="end" class="tk">20</text>

<text x="191.6" y="245" class="lb" textLength="40" lengthAdjust="spacingAndGlyphs">NSW</text>
<text x="539.8" y="43.5" class="lb" textLength="38.2" lengthAdjust="spacingAndGlyphs">SSW</text>
<text x="297.3" y="126.5" class="lb" textLength="99" lengthAdjust="spacingAndGlyphs">MD97-2106</text>
<text x="425.5" y="239.1" class="lb" textLength="107.2" lengthAdjust="spacingAndGlyphs">SSW% = 70%</text>
<text x="560.2" y="239.1" class="lb" textLength="16.6" lengthAdjust="spacingAndGlyphs">PI</text>
<text x="282.6" y="524.1" class="lb" textLength="108.4" lengthAdjust="spacingAndGlyphs">SSW% = 80%</text>
<text x="415.4" y="526.4" class="lb" textLength="39.8" lengthAdjust="spacingAndGlyphs">LGM</text>
<text x="563" y="328.5" class="lb" text-anchor="end">+</text>
<text x="501.5" y="357" class="lb" textLength="61" lengthAdjust="spacingAndGlyphs">density</text>
<text x="561.8" y="396" class="lb" text-anchor="end">-</text>
<text x="301.6" y="651.5" class="ax" textLength="23.6" lengthAdjust="spacingAndGlyphs">PO</text>
<text x="325.3" y="658.3" class="ax" style="font-size:11.5px">4</text>
<text x="332.3" y="651.5" class="ax">*</text>
<text x="346.2" y="651.5" class="ax" textLength="82" lengthAdjust="spacingAndGlyphs">(μmol/kg)</text>
<g transform="translate(15.3 370) rotate(-90)">
<text x="0" y="0" class="ax" textLength="28.8" lengthAdjust="spacingAndGlyphs">[CO</text>
<text x="28.6" y="7.2" class="ax" style="font-size:11.5px">3</text>
<text x="35.3" y="-7" class="ax" style="font-size:11.5px">2-</text>
<text x="44.6" y="0" class="ax">]</text>
<text x="51" y="7.2" class="ax" style="font-size:11.5px" textLength="10.4" lengthAdjust="spacingAndGlyphs">as</text>
<text x="65" y="0" class="ax" textLength="80.5" lengthAdjust="spacingAndGlyphs">(μmol/kg)</text>
</g>

</svg></body></html>
